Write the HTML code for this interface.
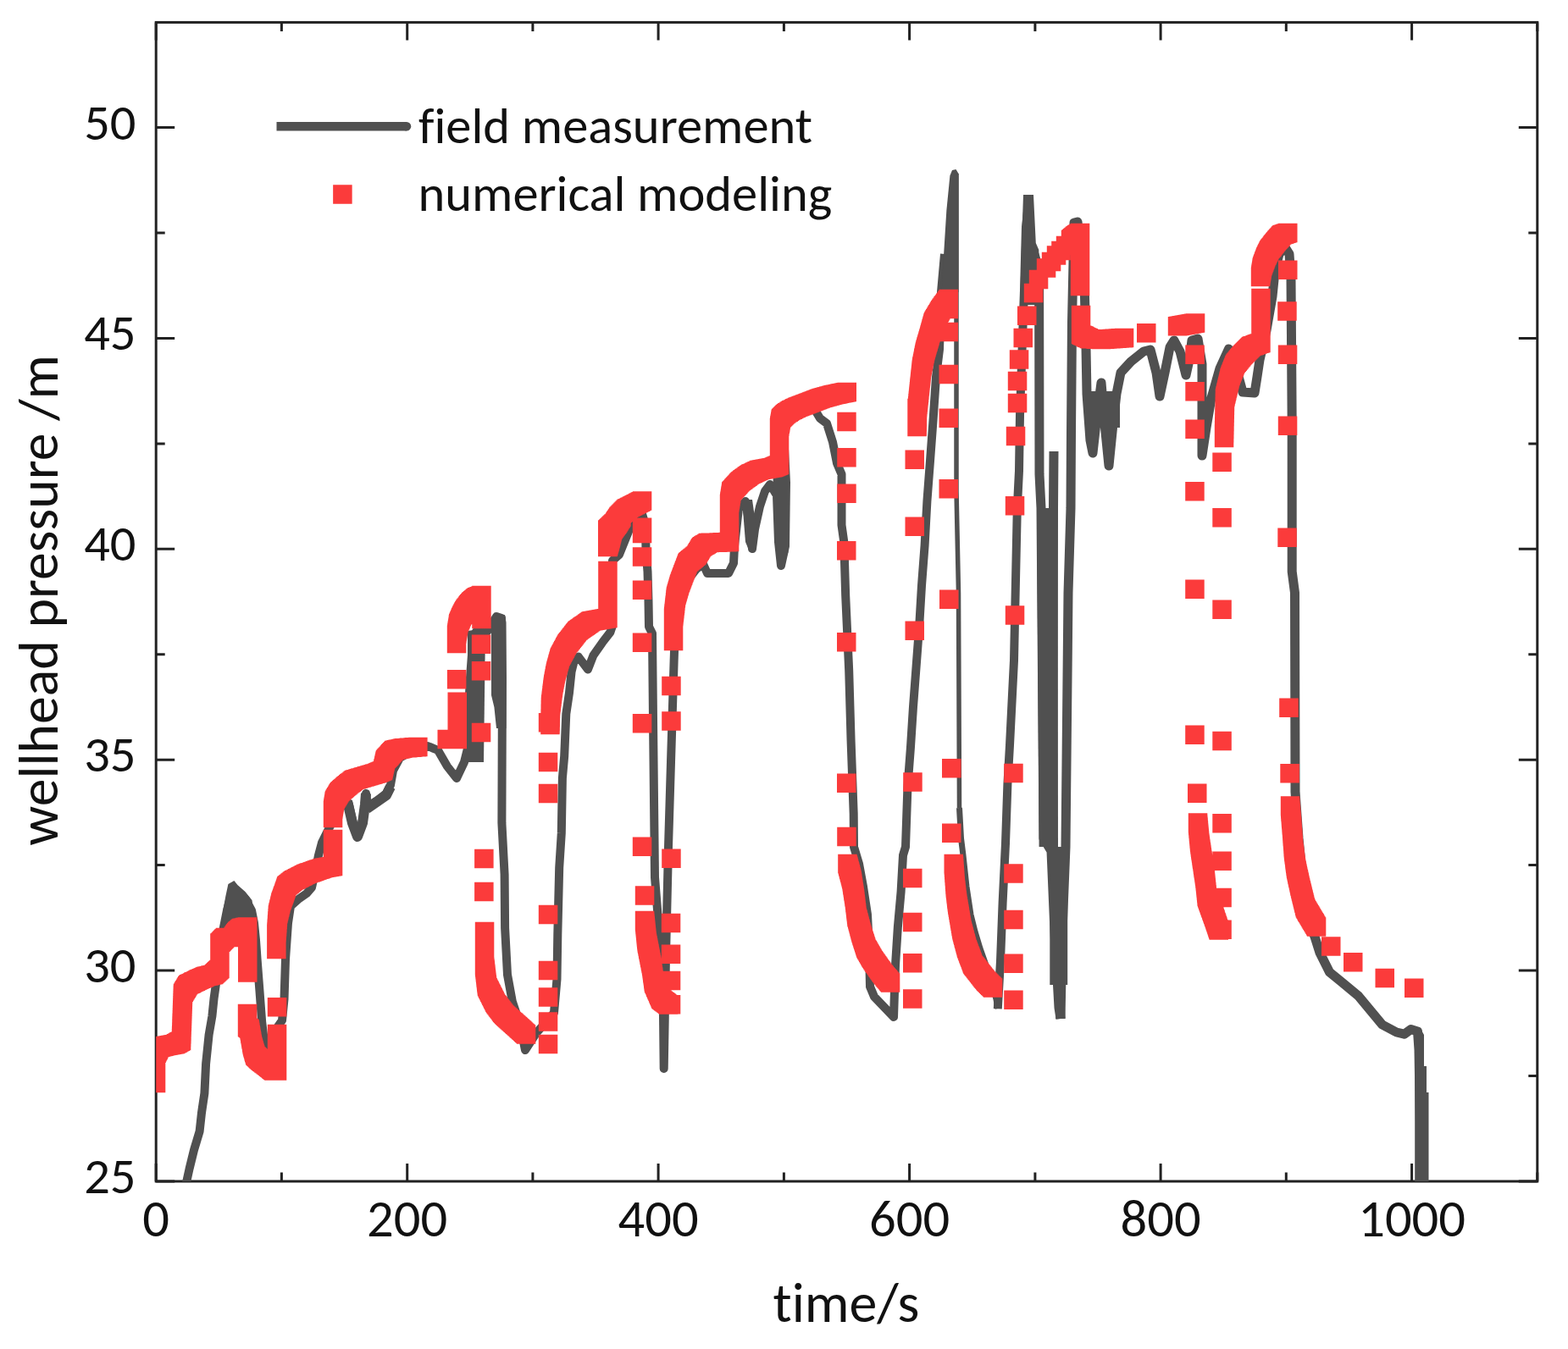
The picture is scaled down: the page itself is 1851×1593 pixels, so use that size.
<!DOCTYPE html>
<html><head><meta charset="utf-8"><title>wellhead pressure</title>
<style>html,body{margin:0;padding:0;background:#fff;}svg{display:block;}text{font-family:"Carlito","Liberation Sans",sans-serif;fill:#111;font-variant-ligatures:none;font-feature-settings:"liga" 0,"clig" 0;}</style>
</head><body>
<svg width="1851" height="1593" viewBox="0 0 1851 1593">
<rect x="184.2" y="26.4" width="1630.6" height="1368.6" fill="none" stroke="#222" stroke-width="3"/>
<path d="M184.2 1395.0v-21M184.2 26.4v21M332.4 1395.0v-10.5M332.4 26.4v10.5M480.7 1395.0v-21M480.7 26.4v21M628.9 1395.0v-10.5M628.9 26.4v10.5M777.1 1395.0v-21M777.1 26.4v21M925.4 1395.0v-10.5M925.4 26.4v10.5M1073.6 1395.0v-21M1073.6 26.4v21M1221.9 1395.0v-10.5M1221.9 26.4v10.5M1370.1 1395.0v-21M1370.1 26.4v21M1518.3 1395.0v-10.5M1518.3 26.4v10.5M1666.6 1395.0v-21M1666.6 26.4v21M1814.8 1395.0v-10.5M1814.8 26.4v10.5M184.2 1395.0h22M1814.8 1395.0h-22M184.2 1270.5h10.5M1814.8 1270.5h-10.5M184.2 1146.1h22M1814.8 1146.1h-22M184.2 1021.6h10.5M1814.8 1021.6h-10.5M184.2 897.2h22M1814.8 897.2h-22M184.2 772.8h10.5M1814.8 772.8h-10.5M184.2 648.3h22M1814.8 648.3h-22M184.2 523.9h10.5M1814.8 523.9h-10.5M184.2 399.4h22M1814.8 399.4h-22M184.2 275.0h10.5M1814.8 275.0h-10.5M184.2 150.5h22M1814.8 150.5h-22" stroke="#222" stroke-width="3" fill="none"/>
<defs><clipPath id="c"><rect x="184.2" y="26.4" width="1630.6" height="1368.6"/></clipPath></defs>
<g clip-path="url(#c)">
<path d="M410.0,946.0 416.0,972.0 422.0,988.0 428.0,972.0 431.0,950.0 432.0,937.0" fill="none" stroke="#505050" stroke-width="12" stroke-linejoin="round" stroke-linecap="butt"/>
<path d="M433.0,955.0 446.0,946.0 456.0,939.0 461.0,929.0" fill="none" stroke="#505050" stroke-width="12" stroke-linejoin="round" stroke-linecap="butt"/>
<path d="M218.5,1402.0 220.3,1395.0 223.6,1380.0 229.0,1358.0 235.6,1336.0 238.0,1314.0 241.4,1291.0 243.1,1256.0 246.6,1222.0 250.4,1200.0 252.6,1178.6 254.3,1166.5 258.0,1140.0 263.0,1100.0 268.0,1075.0 274.0,1052.0 280.0,1052.0 290.0,1062.0 297.0,1075.0 300.0,1090.0 302.0,1110.0 303.5,1131.8 306.4,1169.4 309.2,1207.0 312.0,1230.0 314.0,1240.0 318.0,1235.0 326.0,1215.0 333.0,1205.0 335.5,1180.0 337.0,1133.0 340.0,1090.0 343.0,1070.0 352.0,1062.0 362.0,1055.0 368.0,1048.0 372.0,1030.0 376.0,1010.0 380.0,995.0 390.0,975.0 400.0,955.0 408.0,943.0 412.0,950.0 417.0,972.0 422.0,988.0 427.0,975.0 430.0,955.0 432.0,937.0 434.0,952.0 446.0,945.0 456.0,937.0 461.0,927.0 464.0,910.0 472.0,895.0 490.0,885.0 505.0,881.0 517.0,886.0 528.0,905.0 539.0,919.0 548.0,900.0 553.0,880.0 553.0,840.0 555.0,800.0 558.0,760.0 562.0,746.0 575.0,746.0 586.0,728.0 592.0,730.0 593.0,800.0 592.4,971.8 595.6,1032.5 596.1,1095.7 599.0,1151.0 604.8,1182.7 614.0,1210.0 620.0,1240.0 633.0,1220.0 654.0,1196.0 657.5,1156.0 658.3,1103.6 660.2,1024.6 662.8,983.7 663.9,919.0 666.2,892.7 668.3,843.0 672.0,818.0 674.6,793.0 677.7,780.5 682.7,775.4 694.0,790.5 700.3,774.2 711.6,758.0 720.4,746.6 723.0,739.0 723.0,700.0 723.0,662.0 731.0,655.0 744.5,621.5 752.0,610.0 758.0,607.0 762.0,620.0 762.5,650.0 764.5,675.0 765.5,710.0 766.0,740.0 770.0,748.0 771.0,850.0 773.0,1036.0 780.0,1125.0 783.0,1200.0 783.7,1262.0 786.0,1130.0 789.0,1000.0 792.0,900.0 795.6,781.0 797.0,740.0 803.0,705.0 812.0,685.0 822.0,672.0 830.0,666.0 835.0,677.0 860.0,677.0 866.0,665.0 867.0,645.0 872.0,600.0 880.0,592.0 886.0,625.0 888.0,648.0 891.0,625.0 897.0,598.0 903.0,580.0 909.0,572.0 917.0,585.0 919.0,640.0 922.0,668.0 927.0,645.0 928.0,570.0 926.0,530.0 924.0,500.0 930.0,484.0 945.0,476.0 955.0,476.0 962.0,484.0 968.0,494.0 976.0,500.0 983.0,522.0 988.0,547.0 993.5,560.0 993.5,620.0 996.3,640.0 998.2,703.5 1002.2,791.7 1004.6,875.2 1007.7,961.0 1008.0,1000.0 1014.0,1020.0 1019.0,1047.0 1024.0,1080.0 1026.0,1120.0 1027.0,1165.0 1032.0,1177.0 1055.0,1201.0 1057.0,1140.0 1059.8,1095.5 1063.6,1053.0 1066.0,1010.0 1069.0,1000.0 1071.4,930.0 1075.0,882.0 1078.0,834.6 1081.6,787.0 1085.2,739.0 1088.0,691.5 1091.6,643.8 1094.4,592.0 1098.1,543.0 1101.7,494.0 1105.0,445.0 1109.0,412.6 1111.0,345.0 1115.0,300.0" fill="none" stroke="#505050" stroke-width="10" stroke-linejoin="round" stroke-linecap="butt"/>
<path d="M1129.0,205.0 1129.0,345.0 1129.0,580.0 1131.5,700.0 1132.5,954.0" fill="none" stroke="#505050" stroke-width="5.5" stroke-linejoin="round" stroke-linecap="butt"/>
<path d="M1132.5,954.0 1134.5,990.0 1137.0,1010.0 1141.0,1047.0 1146.0,1080.0 1151.0,1100.0 1157.0,1120.0 1163.0,1137.0 1170.0,1158.0 1176.0,1180.0 1178.0,1191.0" fill="none" stroke="#505050" stroke-width="7" stroke-linejoin="round" stroke-linecap="butt"/>
<path d="M1177.8,1191.2 1181.0,1135.0 1183.6,1066.0 1187.0,996.0 1189.4,926.0 1192.0,880.0 1197.0,780.0 1200.8,600.0 1203.0,556.0 1204.0,490.0 1207.0,400.0 1209.0,343.0 1211.0,268.0 1215.0,232.0" fill="none" stroke="#505050" stroke-width="10" stroke-linejoin="round" stroke-linecap="butt"/>
<path d="M1221.0,300.0 1226.6,320.0 1227.0,560.0 1229.0,600.0 1232.0,990.0 1241.0,1005.0 1245.0,1100.0 1250.0,1190.0 1252.0,1203.0" fill="none" stroke="#505050" stroke-width="11" stroke-linejoin="round" stroke-linecap="butt"/>
<path d="M1244.0,533.0 1243.5,600.0 1243.0,1000.0 1248.0,1100.0 1252.0,1203.0" fill="none" stroke="#505050" stroke-width="11" stroke-linejoin="round" stroke-linecap="butt"/>
<path d="M1252.0,1203.0 1254.0,1100.0 1258.0,1000.0 1261.0,700.0 1264.0,600.0 1264.5,510.0 1265.5,380.0 1268.0,263.0 1272.0,262.0 1280.0,330.0 1282.0,410.0 1283.0,465.0 1287.0,520.0 1290.0,535.0 1295.0,490.0 1300.0,452.0 1304.0,500.0 1309.0,550.0 1314.0,500.0 1318.0,465.0 1323.0,440.0 1335.0,427.0 1350.0,415.0 1358.0,413.0 1365.0,440.0 1369.0,468.0 1375.0,440.0 1381.0,410.0 1386.0,402.0 1393.0,415.0 1400.0,443.0 1404.0,425.0 1407.0,402.0 1414.0,400.0 1419.0,430.0 1419.0,538.0 1424.0,505.0 1430.0,470.0 1440.0,435.0 1450.5,412.0 1458.0,430.0 1467.0,463.0 1481.0,464.0 1484.0,445.0 1487.0,425.0 1495.0,390.0 1502.0,350.0 1505.0,320.0 1510.0,300.0 1517.0,292.0 1522.0,300.0 1524.0,330.0 1524.5,400.0 1525.2,500.0 1525.2,675.0 1528.5,700.0 1529.0,935.0 1533.0,990.0 1540.0,1060.0 1547.0,1095.0 1552.0,1106.0 1558.0,1125.0 1569.5,1148.0 1583.0,1159.0 1603.5,1176.0 1617.6,1193.0 1631.7,1210.0 1648.6,1219.0 1657.7,1221.2 1665.6,1215.6 1673.5,1218.0 1675.0,1240.0 1676.0,1300.0 1678.0,1400.0" fill="none" stroke="#505050" stroke-width="11" stroke-linejoin="round" stroke-linecap="butt"/>
<path d="M552.0,745.0 573.0,742.0 571.0,900.0 552.0,900.0Z" fill="#505050"/>
<path d="M580.0,734.0 583.0,727.0 596.0,726.0 597.5,735.0 597.5,860.0 586.0,860.0 583.4,835.0 580.0,821.0Z" fill="#505050"/>
<path d="M876.0,590.0 888.0,590.0 893.0,625.0 892.0,650.0 885.0,652.0 880.0,640.0Z" fill="#505050"/>
<path d="M912.5,563.0 930.5,563.0 930.5,652.0 924.0,672.0 921.0,670.0 915.0,640.0Z" fill="#505050"/>
<path d="M262.0,1095.0 263.3,1075.0 266.4,1058.0 269.4,1044.0 276.4,1040.0 280.4,1045.0 289.5,1053.0 297.5,1063.0 299.5,1078.0 301.0,1095.0Z" fill="#505050"/>
<path d="M1111.7,345.0 1113.0,318.0 1117.3,249.0 1121.4,207.6 1124.0,201.0 1128.5,200.0 1131.5,205.0 1131.5,345.0Z" fill="#505050"/>
<path d="M1208.0,230.0 1220.0,230.0 1222.8,287.0 1226.3,295.0 1226.5,310.0 1231.0,360.0 1204.0,360.0 1206.0,290.0Z" fill="#505050"/>
<path d="M1281.0,462.0 1322.0,462.0 1322.0,505.0 1281.0,505.0Z" fill="#505050"/>
<path d="M1670.2,1225.0 1668.0,1215.0 1676.0,1213.0 1681.0,1222.0 1681.0,1259.0 1684.0,1259.0 1684.0,1290.0 1686.5,1290.0 1686.5,1400.0 1670.2,1400.0Z" fill="#505050"/>
<path d="M1224.0,600.0 1248.0,600.0 1249.0,1000.0 1226.6,1000.0Z" fill="#505050"/>
<path d="M1239.3,1000.0 1260.2,1000.0 1260.2,1163.0 1239.3,1163.0Z" fill="#505050"/>
<path d="M172.8 1267.8h22.5v22.5h-22.5zM172.8 1266.3h22.5v22.5h-22.5zM172.8 1264.8h22.5v22.5h-22.5zM172.8 1263.3h22.5v22.5h-22.5zM172.8 1261.8h22.5v22.5h-22.5zM172.8 1260.4h22.5v22.5h-22.5zM172.8 1258.9h22.5v22.5h-22.5zM172.8 1257.4h22.5v22.5h-22.5zM172.8 1255.9h22.5v22.5h-22.5zM172.8 1254.4h22.5v22.5h-22.5zM172.8 1253.0h22.5v22.5h-22.5zM172.8 1251.5h22.5v22.5h-22.5zM172.8 1250.0h22.5v22.5h-22.5zM172.8 1248.5h22.5v22.5h-22.5zM172.8 1247.1h22.5v22.5h-22.5zM172.8 1245.6h22.5v22.5h-22.5zM172.8 1244.1h22.5v22.5h-22.5zM172.8 1242.6h22.5v22.5h-22.5zM172.8 1241.1h22.5v22.5h-22.5zM172.8 1239.7h22.5v22.5h-22.5zM172.8 1238.2h22.5v22.5h-22.5zM172.8 1236.7h22.5v22.5h-22.5zM172.8 1235.2h22.5v22.5h-22.5zM172.8 1233.8h22.5v22.5h-22.5zM173.4 1232.4h22.5v22.5h-22.5zM174.1 1231.1h22.5v22.5h-22.5zM174.8 1229.8h22.5v22.5h-22.5zM175.4 1228.4h22.5v22.5h-22.5zM176.1 1227.1h22.5v22.5h-22.5zM176.8 1225.8h22.5v22.5h-22.5zM178.1 1225.4h22.5v22.5h-22.5zM179.4 1225.1h22.5v22.5h-22.5zM180.8 1224.8h22.5v22.5h-22.5zM182.1 1224.4h22.5v22.5h-22.5zM183.4 1224.1h22.5v22.5h-22.5zM184.8 1223.8h22.5v22.5h-22.5zM186.1 1223.5h22.5v22.5h-22.5zM187.5 1223.2h22.5v22.5h-22.5zM188.9 1223.0h22.5v22.5h-22.5zM190.2 1222.8h22.5v22.5h-22.5zM191.6 1222.5h22.5v22.5h-22.5zM193.0 1222.2h22.5v22.5h-22.5zM194.4 1222.0h22.5v22.5h-22.5zM195.8 1221.8h22.5v22.5h-22.5zM196.9 1221.1h22.5v22.5h-22.5zM198.1 1220.4h22.5v22.5h-22.5zM199.2 1219.8h22.5v22.5h-22.5zM200.4 1219.1h22.5v22.5h-22.5zM201.6 1218.4h22.5v22.5h-22.5zM202.8 1217.8h22.5v22.5h-22.5zM202.8 1216.3h22.5v22.5h-22.5zM202.8 1214.8h22.5v22.5h-22.5zM202.9 1213.4h22.5v22.5h-22.5zM202.9 1212.0h22.5v22.5h-22.5zM203.0 1210.5h22.5v22.5h-22.5zM203.1 1209.0h22.5v22.5h-22.5zM203.1 1207.6h22.5v22.5h-22.5zM203.2 1206.2h22.5v22.5h-22.5zM203.2 1204.7h22.5v22.5h-22.5zM203.2 1203.2h22.5v22.5h-22.5zM203.3 1201.8h22.5v22.5h-22.5zM203.3 1200.3h22.5v22.5h-22.5zM203.4 1198.9h22.5v22.5h-22.5zM203.4 1197.5h22.5v22.5h-22.5zM203.5 1196.0h22.5v22.5h-22.5zM203.6 1194.5h22.5v22.5h-22.5zM203.6 1193.1h22.5v22.5h-22.5zM203.7 1191.7h22.5v22.5h-22.5zM203.7 1190.2h22.5v22.5h-22.5zM203.8 1188.8h22.5v22.5h-22.5zM203.8 1187.3h22.5v22.5h-22.5zM203.9 1185.9h22.5v22.5h-22.5zM203.9 1184.5h22.5v22.5h-22.5zM204.0 1183.1h22.5v22.5h-22.5zM204.0 1181.6h22.5v22.5h-22.5zM204.1 1180.2h22.5v22.5h-22.5zM204.1 1178.8h22.5v22.5h-22.5zM204.2 1177.4h22.5v22.5h-22.5zM204.2 1176.0h22.5v22.5h-22.5zM204.3 1174.5h22.5v22.5h-22.5zM204.3 1173.1h22.5v22.5h-22.5zM204.4 1171.7h22.5v22.5h-22.5zM204.4 1170.3h22.5v22.5h-22.5zM204.5 1168.9h22.5v22.5h-22.5zM204.5 1167.4h22.5v22.5h-22.5zM204.6 1166.0h22.5v22.5h-22.5zM204.6 1164.6h22.5v22.5h-22.5zM204.7 1163.2h22.5v22.5h-22.5zM204.8 1161.8h22.5v22.5h-22.5zM205.5 1160.5h22.5v22.5h-22.5zM206.2 1159.2h22.5v22.5h-22.5zM207.0 1158.0h22.5v22.5h-22.5zM207.8 1156.8h22.5v22.5h-22.5zM208.5 1155.5h22.5v22.5h-22.5zM209.2 1154.2h22.5v22.5h-22.5zM210.0 1153.0h22.5v22.5h-22.5zM210.8 1151.8h22.5v22.5h-22.5zM212.0 1151.1h22.5v22.5h-22.5zM213.2 1150.5h22.5v22.5h-22.5zM214.5 1149.9h22.5v22.5h-22.5zM215.8 1149.2h22.5v22.5h-22.5zM217.0 1148.6h22.5v22.5h-22.5zM218.2 1148.0h22.5v22.5h-22.5zM219.5 1147.4h22.5v22.5h-22.5zM220.8 1146.8h22.5v22.5h-22.5zM222.0 1146.2h22.5v22.5h-22.5zM223.2 1145.6h22.5v22.5h-22.5zM224.4 1145.1h22.5v22.5h-22.5zM225.6 1144.5h22.5v22.5h-22.5zM226.9 1144.0h22.5v22.5h-22.5zM228.1 1143.4h22.5v22.5h-22.5zM229.3 1142.9h22.5v22.5h-22.5zM230.5 1142.3h22.5v22.5h-22.5zM231.8 1141.8h22.5v22.5h-22.5zM233.0 1141.5h22.5v22.5h-22.5zM234.3 1141.2h22.5v22.5h-22.5zM235.6 1140.9h22.5v22.5h-22.5zM236.9 1140.6h22.5v22.5h-22.5zM238.2 1140.3h22.5v22.5h-22.5zM239.5 1140.0h22.5v22.5h-22.5zM240.8 1139.8h22.5v22.5h-22.5zM241.8 1138.8h22.5v22.5h-22.5zM242.9 1137.8h22.5v22.5h-22.5zM244.0 1136.8h22.5v22.5h-22.5zM245.0 1135.8h22.5v22.5h-22.5zM246.1 1134.8h22.5v22.5h-22.5zM247.2 1133.8h22.5v22.5h-22.5zM248.2 1132.8h22.5v22.5h-22.5zM248.2 1131.3h22.5v22.5h-22.5zM248.2 1129.9h22.5v22.5h-22.5zM248.2 1128.4h22.5v22.5h-22.5zM248.2 1127.0h22.5v22.5h-22.5zM248.2 1125.5h22.5v22.5h-22.5zM248.2 1124.1h22.5v22.5h-22.5zM248.2 1122.6h22.5v22.5h-22.5zM248.2 1121.2h22.5v22.5h-22.5zM248.2 1119.7h22.5v22.5h-22.5zM248.2 1118.3h22.5v22.5h-22.5zM248.2 1116.8h22.5v22.5h-22.5zM248.2 1115.4h22.5v22.5h-22.5zM248.2 1113.9h22.5v22.5h-22.5zM248.2 1112.5h22.5v22.5h-22.5zM248.2 1111.0h22.5v22.5h-22.5zM248.2 1109.6h22.5v22.5h-22.5zM248.2 1108.1h22.5v22.5h-22.5zM248.2 1106.7h22.5v22.5h-22.5zM248.2 1105.2h22.5v22.5h-22.5zM248.2 1103.8h22.5v22.5h-22.5zM248.2 1102.3h22.5v22.5h-22.5zM249.2 1101.4h22.5v22.5h-22.5zM250.1 1100.5h22.5v22.5h-22.5zM251.0 1099.5h22.5v22.5h-22.5zM252.0 1098.6h22.5v22.5h-22.5zM252.9 1097.6h22.5v22.5h-22.5zM253.8 1096.7h22.5v22.5h-22.5zM254.8 1095.8h22.5v22.5h-22.5zM256.2 1095.8h22.5v22.5h-22.5zM257.8 1095.8h22.5v22.5h-22.5zM259.2 1095.8h22.5v22.5h-22.5zM260.8 1095.8h22.5v22.5h-22.5zM262.2 1095.8h22.5v22.5h-22.5zM263.8 1095.8h22.5v22.5h-22.5zM264.6 1094.6h22.5v22.5h-22.5zM265.4 1093.4h22.5v22.5h-22.5zM266.2 1092.2h22.5v22.5h-22.5zM267.1 1091.1h22.5v22.5h-22.5zM267.9 1089.9h22.5v22.5h-22.5zM268.8 1088.8h22.5v22.5h-22.5zM269.8 1088.0h22.5v22.5h-22.5zM270.8 1087.2h22.5v22.5h-22.5zM271.8 1086.3h22.5v22.5h-22.5zM272.8 1085.5h22.5v22.5h-22.5zM273.8 1084.8h22.5v22.5h-22.5zM275.2 1084.5h22.5v22.5h-22.5zM276.6 1084.2h22.5v22.5h-22.5zM278.1 1083.8h22.5v22.5h-22.5zM279.6 1083.5h22.5v22.5h-22.5zM281.0 1083.2h22.5v22.5h-22.5zM281.0 1084.7h22.5v22.5h-22.5zM281.0 1086.2h22.5v22.5h-22.5zM281.0 1087.7h22.5v22.5h-22.5zM281.0 1089.2h22.5v22.5h-22.5zM281.0 1090.7h22.5v22.5h-22.5zM281.0 1092.2h22.5v22.5h-22.5zM281.0 1093.7h22.5v22.5h-22.5zM281.0 1095.2h22.5v22.5h-22.5zM281.0 1096.7h22.5v22.5h-22.5zM281.0 1098.2h22.5v22.5h-22.5zM281.0 1099.7h22.5v22.5h-22.5zM281.0 1101.2h22.5v22.5h-22.5zM281.0 1102.7h22.5v22.5h-22.5zM281.0 1104.2h22.5v22.5h-22.5zM281.0 1105.7h22.5v22.5h-22.5zM281.0 1107.2h22.5v22.5h-22.5zM281.0 1108.7h22.5v22.5h-22.5zM281.0 1110.2h22.5v22.5h-22.5zM281.0 1111.7h22.5v22.5h-22.5zM281.0 1113.2h22.5v22.5h-22.5zM281.0 1114.7h22.5v22.5h-22.5zM281.0 1116.2h22.5v22.5h-22.5zM281.0 1117.7h22.5v22.5h-22.5zM281.0 1119.2h22.5v22.5h-22.5zM281.0 1120.7h22.5v22.5h-22.5zM281.0 1122.2h22.5v22.5h-22.5zM281.0 1123.7h22.5v22.5h-22.5zM281.0 1125.2h22.5v22.5h-22.5zM281.0 1126.7h22.5v22.5h-22.5zM281.0 1128.2h22.5v22.5h-22.5zM281.0 1129.7h22.5v22.5h-22.5zM281.0 1131.2h22.5v22.5h-22.5zM281.0 1132.7h22.5v22.5h-22.5zM281.0 1134.2h22.5v22.5h-22.5zM281.0 1135.7h22.5v22.5h-22.5zM281.0 1137.2h22.5v22.5h-22.5zM280.8 1185.8h22.5v22.5h-22.5zM280.8 1187.2h22.5v22.5h-22.5zM280.8 1188.7h22.5v22.5h-22.5zM280.8 1190.1h22.5v22.5h-22.5zM280.8 1191.6h22.5v22.5h-22.5zM280.8 1193.0h22.5v22.5h-22.5zM280.8 1194.5h22.5v22.5h-22.5zM280.8 1195.9h22.5v22.5h-22.5zM280.8 1197.4h22.5v22.5h-22.5zM280.8 1198.8h22.5v22.5h-22.5zM280.8 1200.3h22.5v22.5h-22.5zM280.8 1201.8h22.5v22.5h-22.5zM281.6 1202.4h22.5v22.5h-22.5zM282.4 1203.1h22.5v22.5h-22.5zM283.2 1203.8h22.5v22.5h-22.5zM283.5 1205.2h22.5v22.5h-22.5zM283.8 1206.6h22.5v22.5h-22.5zM284.0 1208.0h22.5v22.5h-22.5zM284.2 1209.5h22.5v22.5h-22.5zM284.5 1210.9h22.5v22.5h-22.5zM284.8 1212.3h22.5v22.5h-22.5zM285.0 1213.8h22.5v22.5h-22.5zM285.2 1215.2h22.5v22.5h-22.5zM285.5 1216.6h22.5v22.5h-22.5zM285.8 1218.0h22.5v22.5h-22.5zM286.0 1219.5h22.5v22.5h-22.5zM286.2 1220.9h22.5v22.5h-22.5zM286.5 1222.3h22.5v22.5h-22.5zM286.8 1223.8h22.5v22.5h-22.5zM287.1 1225.0h22.5v22.5h-22.5zM287.5 1226.3h22.5v22.5h-22.5zM287.9 1227.6h22.5v22.5h-22.5zM288.3 1228.9h22.5v22.5h-22.5zM288.6 1230.2h22.5v22.5h-22.5zM289.0 1231.5h22.5v22.5h-22.5zM289.4 1232.8h22.5v22.5h-22.5zM289.8 1234.1h22.5v22.5h-22.5zM290.1 1235.3h22.5v22.5h-22.5zM291.1 1236.2h22.5v22.5h-22.5zM292.0 1237.1h22.5v22.5h-22.5zM292.9 1238.0h22.5v22.5h-22.5zM293.9 1239.0h22.5v22.5h-22.5zM294.8 1239.8h22.5v22.5h-22.5zM295.8 1240.8h22.5v22.5h-22.5zM296.9 1241.6h22.5v22.5h-22.5zM298.0 1242.5h22.5v22.5h-22.5zM299.2 1243.3h22.5v22.5h-22.5zM300.3 1244.2h22.5v22.5h-22.5zM301.5 1245.0h22.5v22.5h-22.5zM302.6 1245.9h22.5v22.5h-22.5zM303.8 1246.8h22.5v22.5h-22.5zM304.8 1247.6h22.5v22.5h-22.5zM305.9 1248.4h22.5v22.5h-22.5zM306.9 1249.2h22.5v22.5h-22.5zM307.9 1250.0h22.5v22.5h-22.5zM309.0 1250.9h22.5v22.5h-22.5zM310.0 1251.7h22.5v22.5h-22.5zM311.1 1252.5h22.5v22.5h-22.5zM312.1 1253.3h22.5v22.5h-22.5zM313.3 1253.3h22.5v22.5h-22.5zM314.6 1253.3h22.5v22.5h-22.5zM315.8 1253.3h22.5v22.5h-22.5zM315.8 1251.9h22.5v22.5h-22.5zM315.8 1250.4h22.5v22.5h-22.5zM315.8 1249.0h22.5v22.5h-22.5zM315.8 1247.5h22.5v22.5h-22.5zM315.8 1246.1h22.5v22.5h-22.5zM315.8 1244.6h22.5v22.5h-22.5zM315.8 1243.2h22.5v22.5h-22.5zM315.8 1241.7h22.5v22.5h-22.5zM315.8 1240.3h22.5v22.5h-22.5zM315.8 1238.8h22.5v22.5h-22.5zM315.8 1237.4h22.5v22.5h-22.5zM315.8 1235.9h22.5v22.5h-22.5zM315.8 1234.5h22.5v22.5h-22.5zM315.8 1233.0h22.5v22.5h-22.5zM315.8 1231.5h22.5v22.5h-22.5zM315.8 1230.1h22.5v22.5h-22.5zM315.8 1228.6h22.5v22.5h-22.5zM315.8 1227.2h22.5v22.5h-22.5zM315.8 1225.7h22.5v22.5h-22.5zM315.8 1224.3h22.5v22.5h-22.5zM315.8 1222.8h22.5v22.5h-22.5zM315.8 1221.4h22.5v22.5h-22.5zM315.8 1219.9h22.5v22.5h-22.5zM315.8 1218.5h22.5v22.5h-22.5zM315.8 1217.0h22.5v22.5h-22.5zM315.8 1215.6h22.5v22.5h-22.5zM315.8 1214.1h22.5v22.5h-22.5zM315.8 1212.7h22.5v22.5h-22.5zM315.8 1211.2h22.5v22.5h-22.5zM315.8 1209.8h22.5v22.5h-22.5zM315.1 1109.8h22.5v22.5h-22.5zM315.1 1108.2h22.5v22.5h-22.5zM315.1 1106.8h22.5v22.5h-22.5zM315.1 1105.2h22.5v22.5h-22.5zM315.1 1103.8h22.5v22.5h-22.5zM315.1 1102.2h22.5v22.5h-22.5zM315.1 1100.8h22.5v22.5h-22.5zM315.1 1099.2h22.5v22.5h-22.5zM315.1 1097.8h22.5v22.5h-22.5zM315.1 1096.2h22.5v22.5h-22.5zM315.1 1094.8h22.5v22.5h-22.5zM315.1 1093.2h22.5v22.5h-22.5zM315.1 1091.8h22.5v22.5h-22.5zM315.2 1090.3h22.5v22.5h-22.5zM315.3 1088.9h22.5v22.5h-22.5zM315.4 1087.4h22.5v22.5h-22.5zM315.5 1086.0h22.5v22.5h-22.5zM315.6 1084.6h22.5v22.5h-22.5zM315.8 1083.1h22.5v22.5h-22.5zM315.8 1081.7h22.5v22.5h-22.5zM315.9 1080.2h22.5v22.5h-22.5zM316.1 1078.8h22.5v22.5h-22.5zM316.1 1077.4h22.5v22.5h-22.5zM316.2 1075.9h22.5v22.5h-22.5zM316.4 1074.5h22.5v22.5h-22.5zM316.4 1073.1h22.5v22.5h-22.5zM316.6 1071.6h22.5v22.5h-22.5zM316.6 1070.2h22.5v22.5h-22.5zM316.8 1068.8h22.5v22.5h-22.5zM317.1 1067.4h22.5v22.5h-22.5zM317.4 1066.0h22.5v22.5h-22.5zM317.8 1064.7h22.5v22.5h-22.5zM318.1 1063.3h22.5v22.5h-22.5zM318.4 1061.9h22.5v22.5h-22.5zM318.8 1060.6h22.5v22.5h-22.5zM319.1 1059.2h22.5v22.5h-22.5zM319.4 1057.8h22.5v22.5h-22.5zM319.8 1056.5h22.5v22.5h-22.5zM320.1 1055.1h22.5v22.5h-22.5zM320.4 1053.8h22.5v22.5h-22.5zM320.9 1052.5h22.5v22.5h-22.5zM321.4 1051.2h22.5v22.5h-22.5zM321.9 1049.9h22.5v22.5h-22.5zM322.3 1048.6h22.5v22.5h-22.5zM322.8 1047.3h22.5v22.5h-22.5zM323.3 1046.0h22.5v22.5h-22.5zM323.8 1044.8h22.5v22.5h-22.5zM324.2 1043.5h22.5v22.5h-22.5zM324.6 1042.2h22.5v22.5h-22.5zM325.1 1041.0h22.5v22.5h-22.5zM325.5 1039.8h22.5v22.5h-22.5zM325.9 1038.5h22.5v22.5h-22.5zM326.4 1037.2h22.5v22.5h-22.5zM326.8 1036.0h22.5v22.5h-22.5zM327.2 1034.8h22.5v22.5h-22.5zM328.3 1033.9h22.5v22.5h-22.5zM329.4 1033.0h22.5v22.5h-22.5zM330.5 1032.2h22.5v22.5h-22.5zM331.5 1031.3h22.5v22.5h-22.5zM332.6 1030.5h22.5v22.5h-22.5zM333.7 1029.6h22.5v22.5h-22.5zM334.8 1028.8h22.5v22.5h-22.5zM336.0 1028.1h22.5v22.5h-22.5zM337.3 1027.4h22.5v22.5h-22.5zM338.6 1026.8h22.5v22.5h-22.5zM339.9 1026.1h22.5v22.5h-22.5zM341.2 1025.4h22.5v22.5h-22.5zM342.5 1024.8h22.5v22.5h-22.5zM343.8 1024.1h22.5v22.5h-22.5zM345.1 1023.4h22.5v22.5h-22.5zM346.4 1022.8h22.5v22.5h-22.5zM347.7 1022.1h22.5v22.5h-22.5zM349.0 1021.4h22.5v22.5h-22.5zM350.2 1020.8h22.5v22.5h-22.5zM351.6 1020.3h22.5v22.5h-22.5zM352.9 1019.8h22.5v22.5h-22.5zM354.2 1019.3h22.5v22.5h-22.5zM355.6 1018.9h22.5v22.5h-22.5zM356.9 1018.4h22.5v22.5h-22.5zM358.2 1018.0h22.5v22.5h-22.5zM359.6 1017.5h22.5v22.5h-22.5zM360.9 1017.0h22.5v22.5h-22.5zM362.2 1016.5h22.5v22.5h-22.5zM363.6 1016.1h22.5v22.5h-22.5zM364.9 1015.6h22.5v22.5h-22.5zM366.2 1015.2h22.5v22.5h-22.5zM367.6 1014.7h22.5v22.5h-22.5zM368.9 1014.2h22.5v22.5h-22.5zM370.2 1013.8h22.5v22.5h-22.5zM371.7 1013.5h22.5v22.5h-22.5zM373.1 1013.2h22.5v22.5h-22.5zM374.6 1013.0h22.5v22.5h-22.5zM376.0 1012.8h22.5v22.5h-22.5zM377.4 1012.5h22.5v22.5h-22.5zM378.9 1012.2h22.5v22.5h-22.5zM380.3 1012.0h22.5v22.5h-22.5zM381.8 1011.8h22.5v22.5h-22.5zM381.8 1010.3h22.5v22.5h-22.5zM381.8 1008.8h22.5v22.5h-22.5zM381.8 1007.4h22.5v22.5h-22.5zM381.8 1005.9h22.5v22.5h-22.5zM381.8 1004.5h22.5v22.5h-22.5zM381.8 1003.0h22.5v22.5h-22.5zM381.8 1001.6h22.5v22.5h-22.5zM381.8 1000.1h22.5v22.5h-22.5zM381.8 998.7h22.5v22.5h-22.5zM381.8 997.2h22.5v22.5h-22.5zM381.8 995.8h22.5v22.5h-22.5zM381.8 994.3h22.5v22.5h-22.5zM381.8 992.8h22.5v22.5h-22.5zM381.8 991.4h22.5v22.5h-22.5zM381.8 989.9h22.5v22.5h-22.5zM381.8 988.5h22.5v22.5h-22.5zM381.8 987.0h22.5v22.5h-22.5zM381.8 985.6h22.5v22.5h-22.5zM381.8 984.1h22.5v22.5h-22.5zM381.8 982.7h22.5v22.5h-22.5zM381.8 981.2h22.5v22.5h-22.5zM381.8 979.8h22.5v22.5h-22.5zM381.8 954.8h22.5v22.5h-22.5zM381.8 953.2h22.5v22.5h-22.5zM381.8 951.8h22.5v22.5h-22.5zM381.8 950.2h22.5v22.5h-22.5zM381.8 948.8h22.5v22.5h-22.5zM381.8 947.2h22.5v22.5h-22.5zM381.8 945.8h22.5v22.5h-22.5zM382.0 944.4h22.5v22.5h-22.5zM382.2 943.1h22.5v22.5h-22.5zM382.4 941.8h22.5v22.5h-22.5zM382.6 940.4h22.5v22.5h-22.5zM382.9 939.1h22.5v22.5h-22.5zM383.1 937.8h22.5v22.5h-22.5zM383.3 936.4h22.5v22.5h-22.5zM383.5 935.1h22.5v22.5h-22.5zM383.8 933.8h22.5v22.5h-22.5zM384.5 932.5h22.5v22.5h-22.5zM385.2 931.2h22.5v22.5h-22.5zM386.0 930.0h22.5v22.5h-22.5zM386.8 928.8h22.5v22.5h-22.5zM387.5 927.5h22.5v22.5h-22.5zM388.2 926.2h22.5v22.5h-22.5zM389.0 925.0h22.5v22.5h-22.5zM389.8 923.8h22.5v22.5h-22.5zM390.8 922.9h22.5v22.5h-22.5zM391.8 922.0h22.5v22.5h-22.5zM392.8 921.1h22.5v22.5h-22.5zM393.8 920.2h22.5v22.5h-22.5zM394.8 919.4h22.5v22.5h-22.5zM395.8 918.5h22.5v22.5h-22.5zM396.8 917.6h22.5v22.5h-22.5zM397.8 916.8h22.5v22.5h-22.5zM398.9 915.9h22.5v22.5h-22.5zM400.0 915.0h22.5v22.5h-22.5zM401.1 914.1h22.5v22.5h-22.5zM402.2 913.2h22.5v22.5h-22.5zM403.4 912.4h22.5v22.5h-22.5zM404.5 911.5h22.5v22.5h-22.5zM405.6 910.6h22.5v22.5h-22.5zM406.8 909.8h22.5v22.5h-22.5zM408.2 909.3h22.5v22.5h-22.5zM409.6 908.9h22.5v22.5h-22.5zM411.0 908.5h22.5v22.5h-22.5zM412.5 908.0h22.5v22.5h-22.5zM413.9 907.6h22.5v22.5h-22.5zM415.3 907.2h22.5v22.5h-22.5zM416.8 906.8h22.5v22.5h-22.5zM418.2 906.3h22.5v22.5h-22.5zM419.6 905.9h22.5v22.5h-22.5zM421.0 905.5h22.5v22.5h-22.5zM422.4 905.1h22.5v22.5h-22.5zM423.8 904.7h22.5v22.5h-22.5zM425.2 904.2h22.5v22.5h-22.5zM426.7 903.8h22.5v22.5h-22.5zM428.1 903.4h22.5v22.5h-22.5zM429.5 903.0h22.5v22.5h-22.5zM430.9 902.6h22.5v22.5h-22.5zM432.3 902.2h22.5v22.5h-22.5zM433.8 901.8h22.5v22.5h-22.5zM434.9 901.2h22.5v22.5h-22.5zM436.1 900.8h22.5v22.5h-22.5zM437.2 900.2h22.5v22.5h-22.5zM438.4 899.8h22.5v22.5h-22.5zM439.6 899.2h22.5v22.5h-22.5zM440.8 898.8h22.5v22.5h-22.5zM441.1 897.3h22.5v22.5h-22.5zM441.4 895.9h22.5v22.5h-22.5zM441.8 894.4h22.5v22.5h-22.5zM442.1 893.0h22.5v22.5h-22.5zM442.4 891.5h22.5v22.5h-22.5zM442.8 890.1h22.5v22.5h-22.5zM443.1 888.6h22.5v22.5h-22.5zM443.4 887.2h22.5v22.5h-22.5zM443.8 885.8h22.5v22.5h-22.5zM444.8 884.6h22.5v22.5h-22.5zM445.8 883.5h22.5v22.5h-22.5zM446.8 882.5h22.5v22.5h-22.5zM447.8 881.4h22.5v22.5h-22.5zM448.8 880.2h22.5v22.5h-22.5zM449.8 879.1h22.5v22.5h-22.5zM450.8 878.0h22.5v22.5h-22.5zM451.8 877.0h22.5v22.5h-22.5zM452.8 875.9h22.5v22.5h-22.5zM453.8 874.8h22.5v22.5h-22.5zM455.1 874.4h22.5v22.5h-22.5zM456.5 874.1h22.5v22.5h-22.5zM457.9 873.8h22.5v22.5h-22.5zM459.2 873.5h22.5v22.5h-22.5zM460.6 873.2h22.5v22.5h-22.5zM462.0 872.9h22.5v22.5h-22.5zM463.4 872.6h22.5v22.5h-22.5zM464.8 872.2h22.5v22.5h-22.5zM466.2 872.1h22.5v22.5h-22.5zM467.6 872.0h22.5v22.5h-22.5zM469.1 871.9h22.5v22.5h-22.5zM470.6 871.8h22.5v22.5h-22.5zM472.0 871.6h22.5v22.5h-22.5zM473.4 871.5h22.5v22.5h-22.5zM474.9 871.4h22.5v22.5h-22.5zM476.3 871.2h22.5v22.5h-22.5zM477.8 871.1h22.5v22.5h-22.5zM479.2 871.0h22.5v22.5h-22.5zM480.7 870.9h22.5v22.5h-22.5zM482.1 870.8h22.5v22.5h-22.5zM516.5 861.8h22.5v22.5h-22.5zM518.0 861.8h22.5v22.5h-22.5zM519.5 861.8h22.5v22.5h-22.5zM521.0 861.8h22.5v22.5h-22.5zM522.5 861.8h22.5v22.5h-22.5zM524.0 861.8h22.5v22.5h-22.5zM525.5 861.8h22.5v22.5h-22.5zM527.0 861.8h22.5v22.5h-22.5zM528.5 861.8h22.5v22.5h-22.5zM528.5 860.3h22.5v22.5h-22.5zM528.5 858.8h22.5v22.5h-22.5zM528.5 857.3h22.5v22.5h-22.5zM528.5 855.8h22.5v22.5h-22.5zM528.5 854.4h22.5v22.5h-22.5zM528.5 852.9h22.5v22.5h-22.5zM528.5 851.4h22.5v22.5h-22.5zM528.5 849.9h22.5v22.5h-22.5zM528.5 848.4h22.5v22.5h-22.5zM528.5 847.0h22.5v22.5h-22.5zM528.5 845.5h22.5v22.5h-22.5zM528.5 844.0h22.5v22.5h-22.5zM528.5 842.5h22.5v22.5h-22.5zM528.5 841.0h22.5v22.5h-22.5zM528.5 839.5h22.5v22.5h-22.5zM528.5 838.1h22.5v22.5h-22.5zM528.5 836.6h22.5v22.5h-22.5zM528.5 835.1h22.5v22.5h-22.5zM528.5 833.6h22.5v22.5h-22.5zM528.5 832.1h22.5v22.5h-22.5zM528.5 830.7h22.5v22.5h-22.5zM528.5 829.2h22.5v22.5h-22.5zM528.5 827.7h22.5v22.5h-22.5zM528.5 826.2h22.5v22.5h-22.5zM528.5 824.8h22.5v22.5h-22.5zM528.5 823.3h22.5v22.5h-22.5zM528.5 821.8h22.5v22.5h-22.5zM528.5 820.3h22.5v22.5h-22.5zM528.5 818.8h22.5v22.5h-22.5zM528.5 817.4h22.5v22.5h-22.5zM527.8 748.8h22.5v22.5h-22.5zM527.8 747.3h22.5v22.5h-22.5zM527.8 745.9h22.5v22.5h-22.5zM527.8 744.5h22.5v22.5h-22.5zM527.8 743.0h22.5v22.5h-22.5zM527.8 741.6h22.5v22.5h-22.5zM527.8 740.2h22.5v22.5h-22.5zM527.8 738.8h22.5v22.5h-22.5zM528.0 737.4h22.5v22.5h-22.5zM528.2 736.0h22.5v22.5h-22.5zM528.4 734.5h22.5v22.5h-22.5zM528.7 733.1h22.5v22.5h-22.5zM528.9 731.8h22.5v22.5h-22.5zM529.1 730.4h22.5v22.5h-22.5zM529.4 729.0h22.5v22.5h-22.5zM529.6 727.5h22.5v22.5h-22.5zM529.8 726.1h22.5v22.5h-22.5zM530.0 724.8h22.5v22.5h-22.5zM530.6 723.4h22.5v22.5h-22.5zM531.2 722.1h22.5v22.5h-22.5zM531.8 720.8h22.5v22.5h-22.5zM532.3 719.4h22.5v22.5h-22.5zM532.9 718.1h22.5v22.5h-22.5zM533.5 716.8h22.5v22.5h-22.5zM534.1 715.6h22.5v22.5h-22.5zM534.7 714.5h22.5v22.5h-22.5zM535.3 713.3h22.5v22.5h-22.5zM535.9 712.2h22.5v22.5h-22.5zM536.5 711.0h22.5v22.5h-22.5zM537.1 709.9h22.5v22.5h-22.5zM537.8 708.8h22.5v22.5h-22.5zM538.6 707.6h22.5v22.5h-22.5zM539.5 706.5h22.5v22.5h-22.5zM540.4 705.4h22.5v22.5h-22.5zM541.2 704.2h22.5v22.5h-22.5zM542.1 703.1h22.5v22.5h-22.5zM543.0 702.0h22.5v22.5h-22.5zM543.9 700.9h22.5v22.5h-22.5zM544.8 699.8h22.5v22.5h-22.5zM545.8 698.9h22.5v22.5h-22.5zM546.8 698.1h22.5v22.5h-22.5zM547.8 697.2h22.5v22.5h-22.5zM548.8 696.4h22.5v22.5h-22.5zM549.8 695.6h22.5v22.5h-22.5zM550.8 694.8h22.5v22.5h-22.5zM552.0 694.1h22.5v22.5h-22.5zM553.4 693.5h22.5v22.5h-22.5zM554.6 693.0h22.5v22.5h-22.5zM556.0 692.4h22.5v22.5h-22.5zM557.2 691.8h22.5v22.5h-22.5zM557.2 693.2h22.5v22.5h-22.5zM557.2 694.7h22.5v22.5h-22.5zM557.2 696.2h22.5v22.5h-22.5zM557.2 697.6h22.5v22.5h-22.5zM557.2 699.1h22.5v22.5h-22.5zM557.2 700.6h22.5v22.5h-22.5zM557.2 702.1h22.5v22.5h-22.5zM557.2 703.5h22.5v22.5h-22.5zM557.2 705.0h22.5v22.5h-22.5zM557.2 706.5h22.5v22.5h-22.5zM557.2 708.0h22.5v22.5h-22.5zM557.2 709.4h22.5v22.5h-22.5zM557.2 710.9h22.5v22.5h-22.5zM557.2 712.4h22.5v22.5h-22.5zM557.2 713.9h22.5v22.5h-22.5zM557.2 715.3h22.5v22.5h-22.5zM557.2 716.8h22.5v22.5h-22.5zM557.2 718.3h22.5v22.5h-22.5zM557.2 719.8h22.5v22.5h-22.5zM560.8 1088.8h22.5v22.5h-22.5zM560.8 1090.2h22.5v22.5h-22.5zM560.8 1091.7h22.5v22.5h-22.5zM560.8 1093.2h22.5v22.5h-22.5zM560.8 1094.7h22.5v22.5h-22.5zM560.8 1096.2h22.5v22.5h-22.5zM560.8 1097.6h22.5v22.5h-22.5zM560.8 1099.1h22.5v22.5h-22.5zM560.8 1100.6h22.5v22.5h-22.5zM560.8 1102.1h22.5v22.5h-22.5zM560.8 1103.6h22.5v22.5h-22.5zM560.8 1105.0h22.5v22.5h-22.5zM560.8 1106.5h22.5v22.5h-22.5zM560.8 1108.0h22.5v22.5h-22.5zM560.8 1109.5h22.5v22.5h-22.5zM560.8 1111.0h22.5v22.5h-22.5zM560.8 1112.5h22.5v22.5h-22.5zM560.8 1113.9h22.5v22.5h-22.5zM560.8 1115.4h22.5v22.5h-22.5zM560.8 1116.9h22.5v22.5h-22.5zM560.8 1118.4h22.5v22.5h-22.5zM560.8 1119.9h22.5v22.5h-22.5zM560.8 1121.3h22.5v22.5h-22.5zM560.8 1122.8h22.5v22.5h-22.5zM560.8 1124.3h22.5v22.5h-22.5zM560.8 1125.8h22.5v22.5h-22.5zM560.8 1127.3h22.5v22.5h-22.5zM560.8 1128.8h22.5v22.5h-22.5zM560.9 1130.2h22.5v22.5h-22.5zM561.1 1131.7h22.5v22.5h-22.5zM561.3 1133.2h22.5v22.5h-22.5zM561.5 1134.6h22.5v22.5h-22.5zM561.6 1136.1h22.5v22.5h-22.5zM561.8 1137.6h22.5v22.5h-22.5zM562.0 1139.0h22.5v22.5h-22.5zM562.2 1140.5h22.5v22.5h-22.5zM562.3 1142.0h22.5v22.5h-22.5zM562.5 1143.5h22.5v22.5h-22.5zM562.7 1144.9h22.5v22.5h-22.5zM562.9 1146.4h22.5v22.5h-22.5zM563.0 1147.9h22.5v22.5h-22.5zM563.2 1149.3h22.5v22.5h-22.5zM563.4 1150.8h22.5v22.5h-22.5zM563.6 1152.3h22.5v22.5h-22.5zM563.8 1153.8h22.5v22.5h-22.5zM564.4 1155.1h22.5v22.5h-22.5zM565.1 1156.4h22.5v22.5h-22.5zM565.8 1157.8h22.5v22.5h-22.5zM566.4 1159.1h22.5v22.5h-22.5zM567.1 1160.4h22.5v22.5h-22.5zM567.8 1161.8h22.5v22.5h-22.5zM568.4 1163.1h22.5v22.5h-22.5zM569.1 1164.4h22.5v22.5h-22.5zM569.8 1165.8h22.5v22.5h-22.5zM570.4 1167.1h22.5v22.5h-22.5zM571.1 1168.4h22.5v22.5h-22.5zM571.8 1169.8h22.5v22.5h-22.5zM572.4 1171.1h22.5v22.5h-22.5zM573.1 1172.4h22.5v22.5h-22.5zM573.8 1173.8h22.5v22.5h-22.5zM574.7 1174.9h22.5v22.5h-22.5zM575.6 1176.1h22.5v22.5h-22.5zM576.5 1177.3h22.5v22.5h-22.5zM577.4 1178.5h22.5v22.5h-22.5zM578.3 1179.7h22.5v22.5h-22.5zM579.2 1180.8h22.5v22.5h-22.5zM580.1 1182.0h22.5v22.5h-22.5zM581.0 1183.2h22.5v22.5h-22.5zM581.9 1184.4h22.5v22.5h-22.5zM582.8 1185.6h22.5v22.5h-22.5zM583.8 1186.8h22.5v22.5h-22.5zM584.9 1187.8h22.5v22.5h-22.5zM586.0 1188.8h22.5v22.5h-22.5zM587.1 1189.8h22.5v22.5h-22.5zM588.2 1190.8h22.5v22.5h-22.5zM589.3 1191.8h22.5v22.5h-22.5zM590.4 1192.8h22.5v22.5h-22.5zM591.5 1193.8h22.5v22.5h-22.5zM592.6 1194.8h22.5v22.5h-22.5zM593.8 1195.8h22.5v22.5h-22.5zM594.8 1196.6h22.5v22.5h-22.5zM595.8 1197.5h22.5v22.5h-22.5zM596.8 1198.4h22.5v22.5h-22.5zM597.8 1199.3h22.5v22.5h-22.5zM598.8 1200.2h22.5v22.5h-22.5zM599.8 1201.1h22.5v22.5h-22.5zM600.8 1202.0h22.5v22.5h-22.5zM601.8 1202.9h22.5v22.5h-22.5zM602.8 1203.8h22.5v22.5h-22.5zM603.8 1204.7h22.5v22.5h-22.5zM604.8 1205.6h22.5v22.5h-22.5zM605.8 1206.5h22.5v22.5h-22.5zM606.8 1207.5h22.5v22.5h-22.5zM607.8 1208.4h22.5v22.5h-22.5zM608.8 1209.3h22.5v22.5h-22.5zM609.8 1210.2h22.5v22.5h-22.5zM638.2 844.8h22.5v22.5h-22.5zM638.3 843.3h22.5v22.5h-22.5zM638.3 841.8h22.5v22.5h-22.5zM638.4 840.4h22.5v22.5h-22.5zM638.4 838.9h22.5v22.5h-22.5zM638.4 837.4h22.5v22.5h-22.5zM638.5 836.0h22.5v22.5h-22.5zM638.5 834.5h22.5v22.5h-22.5zM638.5 833.0h22.5v22.5h-22.5zM638.5 831.5h22.5v22.5h-22.5zM638.6 830.1h22.5v22.5h-22.5zM638.6 828.6h22.5v22.5h-22.5zM638.6 827.1h22.5v22.5h-22.5zM638.7 825.7h22.5v22.5h-22.5zM638.7 824.2h22.5v22.5h-22.5zM638.8 822.8h22.5v22.5h-22.5zM638.9 821.3h22.5v22.5h-22.5zM639.1 819.9h22.5v22.5h-22.5zM639.3 818.5h22.5v22.5h-22.5zM639.5 817.1h22.5v22.5h-22.5zM639.6 815.7h22.5v22.5h-22.5zM639.8 814.3h22.5v22.5h-22.5zM640.0 812.9h22.5v22.5h-22.5zM640.2 811.5h22.5v22.5h-22.5zM640.3 810.0h22.5v22.5h-22.5zM640.5 808.6h22.5v22.5h-22.5zM640.7 807.2h22.5v22.5h-22.5zM640.9 805.8h22.5v22.5h-22.5zM641.0 804.4h22.5v22.5h-22.5zM641.2 803.0h22.5v22.5h-22.5zM641.4 801.6h22.5v22.5h-22.5zM641.6 800.2h22.5v22.5h-22.5zM641.8 798.8h22.5v22.5h-22.5zM642.0 797.3h22.5v22.5h-22.5zM642.3 795.8h22.5v22.5h-22.5zM642.6 794.4h22.5v22.5h-22.5zM642.8 792.9h22.5v22.5h-22.5zM643.1 791.5h22.5v22.5h-22.5zM643.4 790.0h22.5v22.5h-22.5zM643.7 788.6h22.5v22.5h-22.5zM643.9 787.1h22.5v22.5h-22.5zM644.2 785.7h22.5v22.5h-22.5zM644.5 784.2h22.5v22.5h-22.5zM644.8 782.8h22.5v22.5h-22.5zM645.1 781.4h22.5v22.5h-22.5zM645.5 780.0h22.5v22.5h-22.5zM645.9 778.6h22.5v22.5h-22.5zM646.3 777.2h22.5v22.5h-22.5zM646.7 775.8h22.5v22.5h-22.5zM647.1 774.4h22.5v22.5h-22.5zM647.4 773.1h22.5v22.5h-22.5zM647.8 771.7h22.5v22.5h-22.5zM648.2 770.3h22.5v22.5h-22.5zM648.6 768.9h22.5v22.5h-22.5zM649.0 767.5h22.5v22.5h-22.5zM649.4 766.1h22.5v22.5h-22.5zM649.8 764.8h22.5v22.5h-22.5zM650.5 763.5h22.5v22.5h-22.5zM651.2 762.2h22.5v22.5h-22.5zM651.9 760.9h22.5v22.5h-22.5zM652.6 759.6h22.5v22.5h-22.5zM653.3 758.3h22.5v22.5h-22.5zM654.0 757.0h22.5v22.5h-22.5zM654.7 755.7h22.5v22.5h-22.5zM655.4 754.4h22.5v22.5h-22.5zM656.1 753.1h22.5v22.5h-22.5zM656.8 751.8h22.5v22.5h-22.5zM657.5 750.5h22.5v22.5h-22.5zM658.2 749.2h22.5v22.5h-22.5zM659.1 748.1h22.5v22.5h-22.5zM660.0 747.0h22.5v22.5h-22.5zM660.8 745.9h22.5v22.5h-22.5zM661.7 744.8h22.5v22.5h-22.5zM662.5 743.7h22.5v22.5h-22.5zM663.4 742.6h22.5v22.5h-22.5zM664.2 741.5h22.5v22.5h-22.5zM665.1 740.4h22.5v22.5h-22.5zM666.0 739.3h22.5v22.5h-22.5zM666.8 738.2h22.5v22.5h-22.5zM667.7 737.1h22.5v22.5h-22.5zM668.5 736.0h22.5v22.5h-22.5zM669.4 734.9h22.5v22.5h-22.5zM670.2 733.8h22.5v22.5h-22.5zM671.4 732.9h22.5v22.5h-22.5zM672.6 732.1h22.5v22.5h-22.5zM673.7 731.3h22.5v22.5h-22.5zM674.9 730.5h22.5v22.5h-22.5zM676.1 729.6h22.5v22.5h-22.5zM677.2 728.8h22.5v22.5h-22.5zM678.4 728.0h22.5v22.5h-22.5zM679.6 727.2h22.5v22.5h-22.5zM680.7 726.4h22.5v22.5h-22.5zM681.9 725.5h22.5v22.5h-22.5zM683.1 724.7h22.5v22.5h-22.5zM684.2 723.9h22.5v22.5h-22.5zM685.4 723.1h22.5v22.5h-22.5zM686.5 722.2h22.5v22.5h-22.5zM688.0 722.0h22.5v22.5h-22.5zM689.4 721.8h22.5v22.5h-22.5zM690.8 721.5h22.5v22.5h-22.5zM692.2 721.2h22.5v22.5h-22.5zM693.6 721.0h22.5v22.5h-22.5zM695.0 720.8h22.5v22.5h-22.5zM696.4 720.5h22.5v22.5h-22.5zM697.8 720.2h22.5v22.5h-22.5zM699.2 720.0h22.5v22.5h-22.5zM700.6 719.8h22.5v22.5h-22.5zM702.0 719.5h22.5v22.5h-22.5zM703.4 719.2h22.5v22.5h-22.5zM704.8 719.0h22.5v22.5h-22.5zM706.2 718.8h22.5v22.5h-22.5zM706.2 717.3h22.5v22.5h-22.5zM706.2 715.8h22.5v22.5h-22.5zM706.2 714.3h22.5v22.5h-22.5zM706.2 712.9h22.5v22.5h-22.5zM706.2 711.4h22.5v22.5h-22.5zM706.2 709.9h22.5v22.5h-22.5zM706.2 708.4h22.5v22.5h-22.5zM706.2 707.0h22.5v22.5h-22.5zM706.2 705.5h22.5v22.5h-22.5zM706.2 704.0h22.5v22.5h-22.5zM706.2 702.5h22.5v22.5h-22.5zM706.2 701.1h22.5v22.5h-22.5zM706.2 699.6h22.5v22.5h-22.5zM706.2 698.1h22.5v22.5h-22.5zM706.2 696.6h22.5v22.5h-22.5zM706.2 695.2h22.5v22.5h-22.5zM706.2 693.7h22.5v22.5h-22.5zM706.2 692.2h22.5v22.5h-22.5zM706.2 690.8h22.5v22.5h-22.5zM706.2 689.3h22.5v22.5h-22.5zM706.2 687.8h22.5v22.5h-22.5zM706.2 686.3h22.5v22.5h-22.5zM706.2 684.9h22.5v22.5h-22.5zM706.2 683.4h22.5v22.5h-22.5zM706.2 681.9h22.5v22.5h-22.5zM706.2 680.4h22.5v22.5h-22.5zM706.2 679.0h22.5v22.5h-22.5zM706.2 677.5h22.5v22.5h-22.5zM706.2 676.0h22.5v22.5h-22.5zM706.2 674.5h22.5v22.5h-22.5zM706.2 673.1h22.5v22.5h-22.5zM706.2 671.6h22.5v22.5h-22.5zM706.2 670.1h22.5v22.5h-22.5zM706.2 668.6h22.5v22.5h-22.5zM706.2 667.2h22.5v22.5h-22.5zM706.2 665.7h22.5v22.5h-22.5zM706.2 664.2h22.5v22.5h-22.5zM706.2 662.8h22.5v22.5h-22.5zM706.0 634.8h22.5v22.5h-22.5zM706.0 633.3h22.5v22.5h-22.5zM706.0 631.8h22.5v22.5h-22.5zM706.0 630.4h22.5v22.5h-22.5zM706.0 628.9h22.5v22.5h-22.5zM706.0 627.4h22.5v22.5h-22.5zM706.0 626.0h22.5v22.5h-22.5zM706.0 624.5h22.5v22.5h-22.5zM706.0 623.0h22.5v22.5h-22.5zM706.0 621.6h22.5v22.5h-22.5zM706.0 620.1h22.5v22.5h-22.5zM706.0 618.6h22.5v22.5h-22.5zM706.0 617.2h22.5v22.5h-22.5zM706.0 615.7h22.5v22.5h-22.5zM706.0 614.2h22.5v22.5h-22.5zM707.1 613.3h22.5v22.5h-22.5zM708.1 612.3h22.5v22.5h-22.5zM709.2 611.3h22.5v22.5h-22.5zM710.2 610.3h22.5v22.5h-22.5zM711.2 609.3h22.5v22.5h-22.5zM712.3 608.3h22.5v22.5h-22.5zM713.3 607.3h22.5v22.5h-22.5zM714.4 606.4h22.5v22.5h-22.5zM715.1 605.2h22.5v22.5h-22.5zM715.9 604.1h22.5v22.5h-22.5zM716.6 603.0h22.5v22.5h-22.5zM717.4 601.8h22.5v22.5h-22.5zM718.1 600.7h22.5v22.5h-22.5zM718.9 599.6h22.5v22.5h-22.5zM719.6 598.5h22.5v22.5h-22.5zM720.6 597.5h22.5v22.5h-22.5zM721.6 596.5h22.5v22.5h-22.5zM722.6 595.5h22.5v22.5h-22.5zM723.6 594.5h22.5v22.5h-22.5zM724.5 593.6h22.5v22.5h-22.5zM725.5 592.6h22.5v22.5h-22.5zM726.5 591.6h22.5v22.5h-22.5zM727.5 590.6h22.5v22.5h-22.5zM728.5 589.6h22.5v22.5h-22.5zM729.7 589.0h22.5v22.5h-22.5zM730.9 588.4h22.5v22.5h-22.5zM732.1 587.8h22.5v22.5h-22.5zM733.4 587.2h22.5v22.5h-22.5zM734.6 586.5h22.5v22.5h-22.5zM735.8 585.9h22.5v22.5h-22.5zM737.1 585.3h22.5v22.5h-22.5zM738.3 584.7h22.5v22.5h-22.5zM739.5 584.1h22.5v22.5h-22.5zM740.8 583.5h22.5v22.5h-22.5zM742.0 582.8h22.5v22.5h-22.5zM743.1 582.2h22.5v22.5h-22.5zM744.4 581.5h22.5v22.5h-22.5zM745.5 580.9h22.5v22.5h-22.5zM746.8 580.2h22.5v22.5h-22.5zM706.5 634.5h22.5v22.5h-22.5zM706.8 633.2h22.5v22.5h-22.5zM707.2 631.9h22.5v22.5h-22.5zM707.6 630.7h22.5v22.5h-22.5zM707.9 629.4h22.5v22.5h-22.5zM708.3 628.2h22.5v22.5h-22.5zM708.7 626.9h22.5v22.5h-22.5zM709.0 625.6h22.5v22.5h-22.5zM709.4 624.3h22.5v22.5h-22.5zM709.7 623.0h22.5v22.5h-22.5zM710.0 621.7h22.5v22.5h-22.5zM710.3 620.3h22.5v22.5h-22.5zM710.7 619.0h22.5v22.5h-22.5zM711.0 617.7h22.5v22.5h-22.5zM711.3 616.4h22.5v22.5h-22.5zM711.6 615.0h22.5v22.5h-22.5zM712.4 613.9h22.5v22.5h-22.5zM713.2 612.8h22.5v22.5h-22.5zM714.0 611.8h22.5v22.5h-22.5zM714.8 610.6h22.5v22.5h-22.5zM715.5 609.5h22.5v22.5h-22.5zM716.3 608.5h22.5v22.5h-22.5zM717.1 607.4h22.5v22.5h-22.5zM717.9 606.2h22.5v22.5h-22.5zM718.6 605.1h22.5v22.5h-22.5zM719.3 603.9h22.5v22.5h-22.5zM720.0 602.8h22.5v22.5h-22.5zM720.8 601.6h22.5v22.5h-22.5zM721.5 600.4h22.5v22.5h-22.5zM722.2 599.2h22.5v22.5h-22.5zM746.8 611.5h22.5v22.5h-22.5zM746.8 613.0h22.5v22.5h-22.5zM746.8 614.4h22.5v22.5h-22.5zM746.8 615.9h22.5v22.5h-22.5zM746.8 617.3h22.5v22.5h-22.5zM746.8 618.8h22.5v22.5h-22.5zM749.8 1075.8h22.5v22.5h-22.5zM749.9 1077.2h22.5v22.5h-22.5zM750.1 1078.7h22.5v22.5h-22.5zM750.2 1080.2h22.5v22.5h-22.5zM750.4 1081.6h22.5v22.5h-22.5zM750.5 1083.1h22.5v22.5h-22.5zM750.7 1084.6h22.5v22.5h-22.5zM750.8 1086.0h22.5v22.5h-22.5zM751.0 1087.5h22.5v22.5h-22.5zM751.1 1089.0h22.5v22.5h-22.5zM751.3 1090.5h22.5v22.5h-22.5zM751.4 1091.9h22.5v22.5h-22.5zM751.6 1093.4h22.5v22.5h-22.5zM751.7 1094.9h22.5v22.5h-22.5zM751.9 1096.3h22.5v22.5h-22.5zM752.0 1097.8h22.5v22.5h-22.5zM752.2 1099.3h22.5v22.5h-22.5zM752.4 1100.8h22.5v22.5h-22.5zM752.6 1102.2h22.5v22.5h-22.5zM752.9 1103.6h22.5v22.5h-22.5zM753.2 1105.1h22.5v22.5h-22.5zM753.5 1106.5h22.5v22.5h-22.5zM753.8 1107.9h22.5v22.5h-22.5zM754.0 1109.4h22.5v22.5h-22.5zM754.3 1110.8h22.5v22.5h-22.5zM754.6 1112.2h22.5v22.5h-22.5zM754.9 1113.7h22.5v22.5h-22.5zM755.2 1115.1h22.5v22.5h-22.5zM755.4 1116.5h22.5v22.5h-22.5zM755.7 1118.0h22.5v22.5h-22.5zM756.0 1119.4h22.5v22.5h-22.5zM756.3 1120.8h22.5v22.5h-22.5zM756.6 1122.3h22.5v22.5h-22.5zM756.8 1123.7h22.5v22.5h-22.5zM757.1 1125.1h22.5v22.5h-22.5zM757.4 1126.6h22.5v22.5h-22.5zM757.7 1128.0h22.5v22.5h-22.5zM758.0 1129.5h22.5v22.5h-22.5zM758.2 1130.9h22.5v22.5h-22.5zM758.4 1132.3h22.5v22.5h-22.5zM758.6 1133.7h22.5v22.5h-22.5zM758.8 1135.1h22.5v22.5h-22.5zM759.0 1136.5h22.5v22.5h-22.5zM759.1 1137.9h22.5v22.5h-22.5zM759.4 1139.3h22.5v22.5h-22.5zM759.6 1140.7h22.5v22.5h-22.5zM759.8 1142.1h22.5v22.5h-22.5zM760.0 1143.5h22.5v22.5h-22.5zM760.1 1144.9h22.5v22.5h-22.5zM760.4 1146.3h22.5v22.5h-22.5zM760.5 1147.7h22.5v22.5h-22.5zM760.8 1149.2h22.5v22.5h-22.5zM761.3 1150.5h22.5v22.5h-22.5zM761.9 1151.8h22.5v22.5h-22.5zM762.5 1153.1h22.5v22.5h-22.5zM763.0 1154.4h22.5v22.5h-22.5zM763.6 1155.7h22.5v22.5h-22.5zM764.1 1157.0h22.5v22.5h-22.5zM764.7 1158.3h22.5v22.5h-22.5zM765.3 1159.6h22.5v22.5h-22.5zM765.9 1160.9h22.5v22.5h-22.5zM766.4 1162.2h22.5v22.5h-22.5zM767.0 1163.5h22.5v22.5h-22.5zM767.5 1164.8h22.5v22.5h-22.5zM768.1 1166.1h22.5v22.5h-22.5zM768.7 1167.4h22.5v22.5h-22.5zM769.2 1168.8h22.5v22.5h-22.5zM770.3 1169.6h22.5v22.5h-22.5zM771.4 1170.4h22.5v22.5h-22.5zM772.4 1171.2h22.5v22.5h-22.5zM773.5 1172.0h22.5v22.5h-22.5zM774.6 1172.8h22.5v22.5h-22.5zM775.6 1173.6h22.5v22.5h-22.5zM776.7 1174.4h22.5v22.5h-22.5zM777.8 1175.2h22.5v22.5h-22.5zM783.8 745.8h22.5v22.5h-22.5zM783.8 744.2h22.5v22.5h-22.5zM783.8 742.8h22.5v22.5h-22.5zM783.8 741.2h22.5v22.5h-22.5zM783.8 739.8h22.5v22.5h-22.5zM783.8 738.2h22.5v22.5h-22.5zM783.8 736.8h22.5v22.5h-22.5zM783.8 735.2h22.5v22.5h-22.5zM783.8 733.8h22.5v22.5h-22.5zM783.8 732.2h22.5v22.5h-22.5zM783.8 730.8h22.5v22.5h-22.5zM783.8 729.2h22.5v22.5h-22.5zM783.8 727.8h22.5v22.5h-22.5zM783.8 726.2h22.5v22.5h-22.5zM783.8 724.8h22.5v22.5h-22.5zM783.8 723.2h22.5v22.5h-22.5zM783.8 721.8h22.5v22.5h-22.5zM783.8 720.2h22.5v22.5h-22.5zM783.8 718.8h22.5v22.5h-22.5zM783.9 717.3h22.5v22.5h-22.5zM784.1 715.9h22.5v22.5h-22.5zM784.2 714.4h22.5v22.5h-22.5zM784.4 713.0h22.5v22.5h-22.5zM784.6 711.5h22.5v22.5h-22.5zM784.8 710.1h22.5v22.5h-22.5zM784.9 708.6h22.5v22.5h-22.5zM785.1 707.2h22.5v22.5h-22.5zM785.2 705.8h22.5v22.5h-22.5zM785.4 704.3h22.5v22.5h-22.5zM785.6 702.9h22.5v22.5h-22.5zM785.8 701.4h22.5v22.5h-22.5zM785.9 700.0h22.5v22.5h-22.5zM786.1 698.5h22.5v22.5h-22.5zM786.2 697.1h22.5v22.5h-22.5zM786.4 695.6h22.5v22.5h-22.5zM786.6 694.2h22.5v22.5h-22.5zM786.8 692.8h22.5v22.5h-22.5zM787.2 691.4h22.5v22.5h-22.5zM787.6 690.0h22.5v22.5h-22.5zM788.0 688.7h22.5v22.5h-22.5zM788.4 687.3h22.5v22.5h-22.5zM788.8 685.9h22.5v22.5h-22.5zM789.2 684.6h22.5v22.5h-22.5zM789.6 683.2h22.5v22.5h-22.5zM790.0 681.8h22.5v22.5h-22.5zM790.4 680.5h22.5v22.5h-22.5zM790.8 679.1h22.5v22.5h-22.5zM791.2 677.8h22.5v22.5h-22.5zM791.8 676.4h22.5v22.5h-22.5zM792.2 675.1h22.5v22.5h-22.5zM792.8 673.8h22.5v22.5h-22.5zM793.2 672.4h22.5v22.5h-22.5zM793.8 671.1h22.5v22.5h-22.5zM794.2 669.8h22.5v22.5h-22.5zM794.8 668.4h22.5v22.5h-22.5zM795.2 667.1h22.5v22.5h-22.5zM795.8 665.8h22.5v22.5h-22.5zM796.2 664.5h22.5v22.5h-22.5zM796.8 663.1h22.5v22.5h-22.5zM797.2 661.9h22.5v22.5h-22.5zM797.8 660.5h22.5v22.5h-22.5zM798.2 659.2h22.5v22.5h-22.5zM798.8 658.0h22.5v22.5h-22.5zM799.2 656.6h22.5v22.5h-22.5zM799.8 655.4h22.5v22.5h-22.5zM800.2 654.0h22.5v22.5h-22.5zM800.8 652.8h22.5v22.5h-22.5zM801.9 651.9h22.5v22.5h-22.5zM803.0 651.0h22.5v22.5h-22.5zM804.1 650.1h22.5v22.5h-22.5zM805.2 649.2h22.5v22.5h-22.5zM806.3 648.3h22.5v22.5h-22.5zM807.4 647.4h22.5v22.5h-22.5zM808.5 646.5h22.5v22.5h-22.5zM809.6 645.6h22.5v22.5h-22.5zM810.8 644.8h22.5v22.5h-22.5zM811.5 643.5h22.5v22.5h-22.5zM812.2 642.2h22.5v22.5h-22.5zM813.0 641.0h22.5v22.5h-22.5zM813.8 639.8h22.5v22.5h-22.5zM814.5 638.5h22.5v22.5h-22.5zM815.2 637.2h22.5v22.5h-22.5zM816.0 636.0h22.5v22.5h-22.5zM816.8 634.8h22.5v22.5h-22.5zM817.9 634.0h22.5v22.5h-22.5zM819.0 633.3h22.5v22.5h-22.5zM820.2 632.6h22.5v22.5h-22.5zM821.3 631.9h22.5v22.5h-22.5zM822.5 631.2h22.5v22.5h-22.5zM823.6 630.5h22.5v22.5h-22.5zM824.8 629.8h22.5v22.5h-22.5zM826.1 629.7h22.5v22.5h-22.5zM827.5 629.6h22.5v22.5h-22.5zM829.0 629.6h22.5v22.5h-22.5zM830.4 629.5h22.5v22.5h-22.5zM831.8 629.5h22.5v22.5h-22.5zM833.1 629.5h22.5v22.5h-22.5zM834.5 629.4h22.5v22.5h-22.5zM836.0 629.4h22.5v22.5h-22.5zM837.4 629.3h22.5v22.5h-22.5zM838.8 629.2h22.5v22.5h-22.5zM840.1 629.2h22.5v22.5h-22.5zM841.5 629.1h22.5v22.5h-22.5zM842.9 629.1h22.5v22.5h-22.5zM844.2 629.0h22.5v22.5h-22.5zM845.6 628.9h22.5v22.5h-22.5zM847.0 628.9h22.5v22.5h-22.5zM848.4 628.8h22.5v22.5h-22.5zM849.8 628.8h22.5v22.5h-22.5zM849.8 627.2h22.5v22.5h-22.5zM849.8 625.8h22.5v22.5h-22.5zM849.8 624.2h22.5v22.5h-22.5zM849.8 622.8h22.5v22.5h-22.5zM849.8 621.2h22.5v22.5h-22.5zM849.8 619.8h22.5v22.5h-22.5zM849.8 618.2h22.5v22.5h-22.5zM849.8 616.8h22.5v22.5h-22.5zM849.8 615.2h22.5v22.5h-22.5zM849.8 613.8h22.5v22.5h-22.5zM849.8 612.2h22.5v22.5h-22.5zM849.8 610.8h22.5v22.5h-22.5zM849.8 609.2h22.5v22.5h-22.5zM849.8 607.8h22.5v22.5h-22.5zM849.8 606.2h22.5v22.5h-22.5zM849.8 604.8h22.5v22.5h-22.5zM849.8 603.2h22.5v22.5h-22.5zM849.8 601.8h22.5v22.5h-22.5zM849.8 600.2h22.5v22.5h-22.5zM849.8 598.8h22.5v22.5h-22.5zM849.8 597.2h22.5v22.5h-22.5zM849.8 595.8h22.5v22.5h-22.5zM849.8 594.2h22.5v22.5h-22.5zM849.8 592.8h22.5v22.5h-22.5zM849.8 591.2h22.5v22.5h-22.5zM849.8 589.8h22.5v22.5h-22.5zM849.8 588.2h22.5v22.5h-22.5zM849.8 586.8h22.5v22.5h-22.5zM849.8 585.2h22.5v22.5h-22.5zM849.8 583.8h22.5v22.5h-22.5zM850.0 582.4h22.5v22.5h-22.5zM850.2 581.0h22.5v22.5h-22.5zM850.4 579.7h22.5v22.5h-22.5zM850.7 578.3h22.5v22.5h-22.5zM850.9 576.9h22.5v22.5h-22.5zM851.1 575.6h22.5v22.5h-22.5zM851.3 574.2h22.5v22.5h-22.5zM851.6 572.8h22.5v22.5h-22.5zM851.8 571.5h22.5v22.5h-22.5zM852.0 570.1h22.5v22.5h-22.5zM852.2 568.8h22.5v22.5h-22.5zM853.2 567.7h22.5v22.5h-22.5zM854.2 566.7h22.5v22.5h-22.5zM855.1 565.6h22.5v22.5h-22.5zM856.1 564.6h22.5v22.5h-22.5zM857.0 563.5h22.5v22.5h-22.5zM858.0 562.5h22.5v22.5h-22.5zM858.9 561.4h22.5v22.5h-22.5zM859.9 560.4h22.5v22.5h-22.5zM860.8 559.3h22.5v22.5h-22.5zM861.8 558.3h22.5v22.5h-22.5zM862.8 557.2h22.5v22.5h-22.5zM863.9 556.5h22.5v22.5h-22.5zM865.0 555.6h22.5v22.5h-22.5zM866.0 554.9h22.5v22.5h-22.5zM867.1 554.0h22.5v22.5h-22.5zM868.2 553.2h22.5v22.5h-22.5zM869.4 552.5h22.5v22.5h-22.5zM870.5 551.6h22.5v22.5h-22.5zM871.5 550.9h22.5v22.5h-22.5zM872.6 550.0h22.5v22.5h-22.5zM873.8 549.2h22.5v22.5h-22.5zM875.0 548.6h22.5v22.5h-22.5zM876.3 548.0h22.5v22.5h-22.5zM877.6 547.4h22.5v22.5h-22.5zM878.9 546.8h22.5v22.5h-22.5zM880.1 546.2h22.5v22.5h-22.5zM881.4 545.6h22.5v22.5h-22.5zM882.7 545.0h22.5v22.5h-22.5zM884.0 544.4h22.5v22.5h-22.5zM885.2 543.8h22.5v22.5h-22.5zM886.6 543.5h22.5v22.5h-22.5zM888.0 543.2h22.5v22.5h-22.5zM889.4 543.0h22.5v22.5h-22.5zM890.8 542.8h22.5v22.5h-22.5zM892.1 542.5h22.5v22.5h-22.5zM893.5 542.2h22.5v22.5h-22.5zM894.9 542.0h22.5v22.5h-22.5zM896.2 541.8h22.5v22.5h-22.5zM897.6 541.5h22.5v22.5h-22.5zM899.0 541.2h22.5v22.5h-22.5zM900.4 541.0h22.5v22.5h-22.5zM901.8 540.8h22.5v22.5h-22.5zM902.9 540.2h22.5v22.5h-22.5zM904.1 539.8h22.5v22.5h-22.5zM905.2 539.2h22.5v22.5h-22.5zM906.4 538.8h22.5v22.5h-22.5zM907.6 538.2h22.5v22.5h-22.5zM908.8 537.8h22.5v22.5h-22.5zM908.8 536.3h22.5v22.5h-22.5zM908.8 534.8h22.5v22.5h-22.5zM908.8 533.4h22.5v22.5h-22.5zM908.8 531.9h22.5v22.5h-22.5zM908.8 530.4h22.5v22.5h-22.5zM908.8 529.0h22.5v22.5h-22.5zM908.8 527.5h22.5v22.5h-22.5zM908.8 526.0h22.5v22.5h-22.5zM908.8 524.5h22.5v22.5h-22.5zM908.8 523.1h22.5v22.5h-22.5zM908.8 521.6h22.5v22.5h-22.5zM908.8 520.1h22.5v22.5h-22.5zM908.8 518.7h22.5v22.5h-22.5zM908.8 517.2h22.5v22.5h-22.5zM908.8 515.8h22.5v22.5h-22.5zM908.8 514.3h22.5v22.5h-22.5zM908.8 512.8h22.5v22.5h-22.5zM908.8 511.4h22.5v22.5h-22.5zM908.8 509.9h22.5v22.5h-22.5zM908.8 508.4h22.5v22.5h-22.5zM908.8 507.0h22.5v22.5h-22.5zM908.8 505.5h22.5v22.5h-22.5zM908.8 504.0h22.5v22.5h-22.5zM908.8 502.5h22.5v22.5h-22.5zM908.8 501.1h22.5v22.5h-22.5zM908.8 499.6h22.5v22.5h-22.5zM908.8 498.1h22.5v22.5h-22.5zM908.8 496.7h22.5v22.5h-22.5zM908.8 495.2h22.5v22.5h-22.5zM908.8 493.8h22.5v22.5h-22.5zM909.0 492.4h22.5v22.5h-22.5zM909.2 491.0h22.5v22.5h-22.5zM909.5 489.6h22.5v22.5h-22.5zM909.8 488.2h22.5v22.5h-22.5zM910.0 486.9h22.5v22.5h-22.5zM910.2 485.5h22.5v22.5h-22.5zM910.5 484.1h22.5v22.5h-22.5zM910.8 482.8h22.5v22.5h-22.5zM911.8 481.8h22.5v22.5h-22.5zM912.8 480.8h22.5v22.5h-22.5zM913.8 479.8h22.5v22.5h-22.5zM914.8 478.8h22.5v22.5h-22.5zM915.8 477.8h22.5v22.5h-22.5zM917.0 476.9h22.5v22.5h-22.5zM918.1 476.1h22.5v22.5h-22.5zM919.4 475.4h22.5v22.5h-22.5zM920.5 474.6h22.5v22.5h-22.5zM921.8 473.8h22.5v22.5h-22.5zM923.1 473.1h22.5v22.5h-22.5zM924.4 472.4h22.5v22.5h-22.5zM925.8 471.8h22.5v22.5h-22.5zM927.1 471.1h22.5v22.5h-22.5zM928.4 470.4h22.5v22.5h-22.5zM929.8 469.8h22.5v22.5h-22.5zM931.1 469.2h22.5v22.5h-22.5zM932.4 468.8h22.5v22.5h-22.5zM933.8 468.2h22.5v22.5h-22.5zM935.1 467.8h22.5v22.5h-22.5zM936.4 467.2h22.5v22.5h-22.5zM937.8 466.8h22.5v22.5h-22.5zM939.1 466.2h22.5v22.5h-22.5zM940.4 465.8h22.5v22.5h-22.5zM941.8 465.2h22.5v22.5h-22.5zM943.1 464.8h22.5v22.5h-22.5zM944.4 464.2h22.5v22.5h-22.5zM945.7 463.8h22.5v22.5h-22.5zM947.0 463.2h22.5v22.5h-22.5zM948.3 462.8h22.5v22.5h-22.5zM949.6 462.2h22.5v22.5h-22.5zM950.9 461.8h22.5v22.5h-22.5zM952.2 461.2h22.5v22.5h-22.5zM953.5 460.8h22.5v22.5h-22.5zM954.8 460.2h22.5v22.5h-22.5zM956.1 459.8h22.5v22.5h-22.5zM957.4 459.2h22.5v22.5h-22.5zM958.8 458.8h22.5v22.5h-22.5zM960.1 458.4h22.5v22.5h-22.5zM961.5 458.0h22.5v22.5h-22.5zM962.8 457.7h22.5v22.5h-22.5zM964.2 457.3h22.5v22.5h-22.5zM965.6 456.9h22.5v22.5h-22.5zM966.9 456.6h22.5v22.5h-22.5zM968.3 456.2h22.5v22.5h-22.5zM969.7 455.8h22.5v22.5h-22.5zM971.0 455.5h22.5v22.5h-22.5zM972.4 455.1h22.5v22.5h-22.5zM973.8 454.8h22.5v22.5h-22.5zM975.2 454.5h22.5v22.5h-22.5zM976.6 454.2h22.5v22.5h-22.5zM978.0 453.9h22.5v22.5h-22.5zM979.5 453.6h22.5v22.5h-22.5zM980.9 453.3h22.5v22.5h-22.5zM982.3 453.0h22.5v22.5h-22.5zM983.8 452.8h22.5v22.5h-22.5zM984.9 452.5h22.5v22.5h-22.5zM986.1 452.2h22.5v22.5h-22.5zM987.3 452.0h22.5v22.5h-22.5zM988.5 451.8h22.5v22.5h-22.5zM989.2 1008.8h22.5v22.5h-22.5zM989.6 1010.1h22.5v22.5h-22.5zM990.0 1011.5h22.5v22.5h-22.5zM990.3 1012.8h22.5v22.5h-22.5zM990.7 1014.2h22.5v22.5h-22.5zM991.0 1015.5h22.5v22.5h-22.5zM991.4 1016.9h22.5v22.5h-22.5zM991.8 1018.2h22.5v22.5h-22.5zM992.1 1019.6h22.5v22.5h-22.5zM992.5 1021.0h22.5v22.5h-22.5zM992.8 1022.3h22.5v22.5h-22.5zM993.2 1023.7h22.5v22.5h-22.5zM993.5 1025.0h22.5v22.5h-22.5zM993.9 1026.4h22.5v22.5h-22.5zM994.2 1027.8h22.5v22.5h-22.5zM994.5 1029.2h22.5v22.5h-22.5zM994.7 1030.6h22.5v22.5h-22.5zM994.9 1032.0h22.5v22.5h-22.5zM995.1 1033.4h22.5v22.5h-22.5zM995.3 1034.8h22.5v22.5h-22.5zM995.6 1036.2h22.5v22.5h-22.5zM995.8 1037.6h22.5v22.5h-22.5zM996.0 1039.0h22.5v22.5h-22.5zM996.2 1040.4h22.5v22.5h-22.5zM996.4 1041.8h22.5v22.5h-22.5zM996.7 1043.2h22.5v22.5h-22.5zM996.9 1044.6h22.5v22.5h-22.5zM997.1 1046.0h22.5v22.5h-22.5zM997.3 1047.4h22.5v22.5h-22.5zM997.5 1048.8h22.5v22.5h-22.5zM997.8 1050.2h22.5v22.5h-22.5zM997.9 1051.7h22.5v22.5h-22.5zM998.1 1053.0h22.5v22.5h-22.5zM998.2 1054.5h22.5v22.5h-22.5zM998.4 1055.8h22.5v22.5h-22.5zM998.6 1057.2h22.5v22.5h-22.5zM998.8 1058.7h22.5v22.5h-22.5zM998.9 1060.0h22.5v22.5h-22.5zM999.1 1061.5h22.5v22.5h-22.5zM999.2 1062.8h22.5v22.5h-22.5zM999.4 1064.2h22.5v22.5h-22.5zM999.6 1065.7h22.5v22.5h-22.5zM999.8 1067.0h22.5v22.5h-22.5zM999.9 1068.5h22.5v22.5h-22.5zM1000.1 1069.8h22.5v22.5h-22.5zM1000.2 1071.2h22.5v22.5h-22.5zM1000.6 1072.6h22.5v22.5h-22.5zM1001.0 1074.0h22.5v22.5h-22.5zM1001.4 1075.3h22.5v22.5h-22.5zM1001.7 1076.7h22.5v22.5h-22.5zM1002.1 1078.1h22.5v22.5h-22.5zM1002.5 1079.5h22.5v22.5h-22.5zM1002.8 1080.8h22.5v22.5h-22.5zM1003.2 1082.2h22.5v22.5h-22.5zM1003.5 1083.5h22.5v22.5h-22.5zM1003.9 1084.9h22.5v22.5h-22.5zM1004.3 1086.3h22.5v22.5h-22.5zM1004.6 1087.7h22.5v22.5h-22.5zM1005.0 1089.0h22.5v22.5h-22.5zM1005.4 1090.4h22.5v22.5h-22.5zM1005.8 1091.8h22.5v22.5h-22.5zM1006.2 1093.2h22.5v22.5h-22.5zM1006.7 1094.6h22.5v22.5h-22.5zM1007.1 1096.0h22.5v22.5h-22.5zM1007.6 1097.4h22.5v22.5h-22.5zM1008.0 1098.8h22.5v22.5h-22.5zM1008.5 1100.2h22.5v22.5h-22.5zM1009.0 1101.7h22.5v22.5h-22.5zM1009.4 1103.1h22.5v22.5h-22.5zM1009.9 1104.5h22.5v22.5h-22.5zM1010.3 1105.9h22.5v22.5h-22.5zM1010.8 1107.3h22.5v22.5h-22.5zM1011.2 1108.8h22.5v22.5h-22.5zM1011.9 1109.9h22.5v22.5h-22.5zM1012.6 1111.1h22.5v22.5h-22.5zM1013.3 1112.3h22.5v22.5h-22.5zM1014.0 1113.5h22.5v22.5h-22.5zM1014.7 1114.7h22.5v22.5h-22.5zM1015.3 1115.8h22.5v22.5h-22.5zM1016.0 1117.0h22.5v22.5h-22.5zM1016.7 1118.2h22.5v22.5h-22.5zM1017.4 1119.4h22.5v22.5h-22.5zM1018.1 1120.6h22.5v22.5h-22.5zM1018.8 1121.8h22.5v22.5h-22.5zM1019.6 1123.0h22.5v22.5h-22.5zM1020.5 1124.2h22.5v22.5h-22.5zM1021.3 1125.4h22.5v22.5h-22.5zM1022.2 1126.6h22.5v22.5h-22.5zM1023.0 1127.8h22.5v22.5h-22.5zM1023.9 1129.0h22.5v22.5h-22.5zM1024.8 1130.2h22.5v22.5h-22.5zM1025.6 1131.5h22.5v22.5h-22.5zM1026.5 1132.7h22.5v22.5h-22.5zM1027.3 1133.9h22.5v22.5h-22.5zM1028.2 1135.1h22.5v22.5h-22.5zM1029.0 1136.3h22.5v22.5h-22.5zM1029.9 1137.5h22.5v22.5h-22.5zM1030.8 1138.8h22.5v22.5h-22.5zM1031.7 1139.8h22.5v22.5h-22.5zM1032.5 1140.8h22.5v22.5h-22.5zM1033.5 1141.9h22.5v22.5h-22.5zM1034.3 1143.0h22.5v22.5h-22.5zM1035.2 1144.0h22.5v22.5h-22.5zM1036.2 1145.0h22.5v22.5h-22.5zM1037.0 1146.1h22.5v22.5h-22.5zM1038.0 1147.2h22.5v22.5h-22.5zM1038.8 1148.2h22.5v22.5h-22.5zM1039.8 1149.2h22.5v22.5h-22.5zM1071.3 470.8h22.5v22.5h-22.5zM1071.3 472.2h22.5v22.5h-22.5zM1071.3 473.7h22.5v22.5h-22.5zM1071.3 475.1h22.5v22.5h-22.5zM1071.3 476.6h22.5v22.5h-22.5zM1071.3 478.1h22.5v22.5h-22.5zM1071.3 479.6h22.5v22.5h-22.5zM1071.3 481.0h22.5v22.5h-22.5zM1071.3 482.5h22.5v22.5h-22.5zM1071.3 483.9h22.5v22.5h-22.5zM1071.3 485.4h22.5v22.5h-22.5zM1071.3 486.9h22.5v22.5h-22.5zM1071.3 488.4h22.5v22.5h-22.5zM1071.3 489.8h22.5v22.5h-22.5zM1071.3 491.3h22.5v22.5h-22.5zM1071.3 492.8h22.5v22.5h-22.5zM1071.4 491.3h22.5v22.5h-22.5zM1071.4 489.8h22.5v22.5h-22.5zM1071.4 488.4h22.5v22.5h-22.5zM1071.5 486.9h22.5v22.5h-22.5zM1071.5 485.4h22.5v22.5h-22.5zM1071.5 483.9h22.5v22.5h-22.5zM1071.5 482.5h22.5v22.5h-22.5zM1071.6 481.0h22.5v22.5h-22.5zM1071.6 479.6h22.5v22.5h-22.5zM1071.6 478.1h22.5v22.5h-22.5zM1071.6 476.6h22.5v22.5h-22.5zM1071.7 475.1h22.5v22.5h-22.5zM1071.7 473.7h22.5v22.5h-22.5zM1071.7 472.2h22.5v22.5h-22.5zM1071.8 470.8h22.5v22.5h-22.5zM1071.9 469.3h22.5v22.5h-22.5zM1072.0 467.9h22.5v22.5h-22.5zM1072.2 466.5h22.5v22.5h-22.5zM1072.3 465.1h22.5v22.5h-22.5zM1072.5 463.7h22.5v22.5h-22.5zM1072.6 462.3h22.5v22.5h-22.5zM1072.8 460.9h22.5v22.5h-22.5zM1072.9 459.5h22.5v22.5h-22.5zM1073.1 458.0h22.5v22.5h-22.5zM1073.2 456.6h22.5v22.5h-22.5zM1073.4 455.2h22.5v22.5h-22.5zM1073.5 453.8h22.5v22.5h-22.5zM1073.7 452.4h22.5v22.5h-22.5zM1073.8 451.0h22.5v22.5h-22.5zM1074.0 449.6h22.5v22.5h-22.5zM1074.1 448.2h22.5v22.5h-22.5zM1074.2 446.8h22.5v22.5h-22.5zM1074.4 445.3h22.5v22.5h-22.5zM1074.6 443.9h22.5v22.5h-22.5zM1074.7 442.4h22.5v22.5h-22.5zM1074.9 441.0h22.5v22.5h-22.5zM1075.0 439.6h22.5v22.5h-22.5zM1075.2 438.1h22.5v22.5h-22.5zM1075.3 436.7h22.5v22.5h-22.5zM1075.5 435.2h22.5v22.5h-22.5zM1075.7 433.8h22.5v22.5h-22.5zM1075.8 432.4h22.5v22.5h-22.5zM1076.0 430.9h22.5v22.5h-22.5zM1076.1 429.5h22.5v22.5h-22.5zM1076.3 428.1h22.5v22.5h-22.5zM1076.4 426.6h22.5v22.5h-22.5zM1076.6 425.2h22.5v22.5h-22.5zM1076.8 423.8h22.5v22.5h-22.5zM1077.0 422.3h22.5v22.5h-22.5zM1077.3 420.9h22.5v22.5h-22.5zM1077.6 419.5h22.5v22.5h-22.5zM1077.9 418.0h22.5v22.5h-22.5zM1078.2 416.6h22.5v22.5h-22.5zM1078.5 415.2h22.5v22.5h-22.5zM1078.8 413.8h22.5v22.5h-22.5zM1079.0 412.3h22.5v22.5h-22.5zM1079.3 410.9h22.5v22.5h-22.5zM1079.6 409.5h22.5v22.5h-22.5zM1079.9 408.0h22.5v22.5h-22.5zM1080.2 406.6h22.5v22.5h-22.5zM1080.5 405.2h22.5v22.5h-22.5zM1080.8 403.8h22.5v22.5h-22.5zM1081.2 402.3h22.5v22.5h-22.5zM1081.6 400.9h22.5v22.5h-22.5zM1082.0 399.5h22.5v22.5h-22.5zM1082.4 398.1h22.5v22.5h-22.5zM1082.8 396.7h22.5v22.5h-22.5zM1083.2 395.2h22.5v22.5h-22.5zM1083.7 393.8h22.5v22.5h-22.5zM1084.1 392.4h22.5v22.5h-22.5zM1084.5 391.0h22.5v22.5h-22.5zM1084.9 389.6h22.5v22.5h-22.5zM1085.3 388.2h22.5v22.5h-22.5zM1085.8 386.8h22.5v22.5h-22.5zM1086.1 385.4h22.5v22.5h-22.5zM1086.5 384.0h22.5v22.5h-22.5zM1086.9 382.6h22.5v22.5h-22.5zM1087.3 381.2h22.5v22.5h-22.5zM1087.7 379.8h22.5v22.5h-22.5zM1088.1 378.4h22.5v22.5h-22.5zM1088.4 377.1h22.5v22.5h-22.5zM1088.8 375.7h22.5v22.5h-22.5zM1089.2 374.3h22.5v22.5h-22.5zM1089.6 372.9h22.5v22.5h-22.5zM1090.0 371.5h22.5v22.5h-22.5zM1090.4 370.1h22.5v22.5h-22.5zM1090.8 368.8h22.5v22.5h-22.5zM1091.5 367.5h22.5v22.5h-22.5zM1092.2 366.2h22.5v22.5h-22.5zM1093.0 365.0h22.5v22.5h-22.5zM1093.8 363.8h22.5v22.5h-22.5zM1094.5 362.5h22.5v22.5h-22.5zM1095.2 361.2h22.5v22.5h-22.5zM1096.0 360.0h22.5v22.5h-22.5zM1096.8 358.8h22.5v22.5h-22.5zM1097.5 357.5h22.5v22.5h-22.5zM1098.2 356.2h22.5v22.5h-22.5zM1099.0 355.0h22.5v22.5h-22.5zM1099.8 353.8h22.5v22.5h-22.5zM1100.6 352.6h22.5v22.5h-22.5zM1101.5 351.4h22.5v22.5h-22.5zM1102.4 350.1h22.5v22.5h-22.5zM1103.3 348.9h22.5v22.5h-22.5zM1104.2 347.8h22.5v22.5h-22.5zM1105.0 346.6h22.5v22.5h-22.5zM1105.9 345.4h22.5v22.5h-22.5zM1106.8 344.1h22.5v22.5h-22.5zM1107.7 342.9h22.5v22.5h-22.5zM1108.5 341.8h22.5v22.5h-22.5zM1108.5 343.2h22.5v22.5h-22.5zM1108.5 344.8h22.5v22.5h-22.5zM1108.5 346.2h22.5v22.5h-22.5zM1108.5 347.8h22.5v22.5h-22.5zM1108.5 349.2h22.5v22.5h-22.5zM1108.5 350.8h22.5v22.5h-22.5zM1108.5 352.2h22.5v22.5h-22.5zM1108.5 353.8h22.5v22.5h-22.5zM1114.5 1008.8h22.5v22.5h-22.5zM1114.6 1010.2h22.5v22.5h-22.5zM1114.8 1011.6h22.5v22.5h-22.5zM1114.8 1013.0h22.5v22.5h-22.5zM1115.0 1014.4h22.5v22.5h-22.5zM1115.0 1015.9h22.5v22.5h-22.5zM1115.2 1017.3h22.5v22.5h-22.5zM1115.2 1018.7h22.5v22.5h-22.5zM1115.3 1020.1h22.5v22.5h-22.5zM1115.5 1021.5h22.5v22.5h-22.5zM1115.5 1023.0h22.5v22.5h-22.5zM1115.7 1024.4h22.5v22.5h-22.5zM1115.8 1025.8h22.5v22.5h-22.5zM1115.8 1027.2h22.5v22.5h-22.5zM1116.0 1028.6h22.5v22.5h-22.5zM1116.0 1030.1h22.5v22.5h-22.5zM1116.2 1031.5h22.5v22.5h-22.5zM1116.2 1032.9h22.5v22.5h-22.5zM1116.4 1034.3h22.5v22.5h-22.5zM1116.5 1035.8h22.5v22.5h-22.5zM1116.6 1037.2h22.5v22.5h-22.5zM1116.8 1038.7h22.5v22.5h-22.5zM1117.0 1040.1h22.5v22.5h-22.5zM1117.2 1041.6h22.5v22.5h-22.5zM1117.3 1043.1h22.5v22.5h-22.5zM1117.5 1044.5h22.5v22.5h-22.5zM1117.7 1046.0h22.5v22.5h-22.5zM1117.9 1047.4h22.5v22.5h-22.5zM1118.0 1048.9h22.5v22.5h-22.5zM1118.2 1050.4h22.5v22.5h-22.5zM1118.4 1051.8h22.5v22.5h-22.5zM1118.6 1053.3h22.5v22.5h-22.5zM1118.8 1054.8h22.5v22.5h-22.5zM1119.0 1056.2h22.5v22.5h-22.5zM1119.2 1057.7h22.5v22.5h-22.5zM1119.5 1059.1h22.5v22.5h-22.5zM1119.7 1060.6h22.5v22.5h-22.5zM1120.0 1062.0h22.5v22.5h-22.5zM1120.2 1063.5h22.5v22.5h-22.5zM1120.5 1064.9h22.5v22.5h-22.5zM1120.7 1066.4h22.5v22.5h-22.5zM1121.0 1067.8h22.5v22.5h-22.5zM1121.2 1069.3h22.5v22.5h-22.5zM1121.5 1070.8h22.5v22.5h-22.5zM1121.7 1072.2h22.5v22.5h-22.5zM1121.9 1073.7h22.5v22.5h-22.5zM1122.2 1075.1h22.5v22.5h-22.5zM1122.4 1076.6h22.5v22.5h-22.5zM1122.7 1078.0h22.5v22.5h-22.5zM1122.9 1079.5h22.5v22.5h-22.5zM1123.2 1080.9h22.5v22.5h-22.5zM1123.4 1082.4h22.5v22.5h-22.5zM1123.7 1083.8h22.5v22.5h-22.5zM1123.9 1085.3h22.5v22.5h-22.5zM1124.2 1086.8h22.5v22.5h-22.5zM1124.5 1088.1h22.5v22.5h-22.5zM1124.9 1089.5h22.5v22.5h-22.5zM1125.3 1090.9h22.5v22.5h-22.5zM1125.6 1092.2h22.5v22.5h-22.5zM1126.0 1093.6h22.5v22.5h-22.5zM1126.4 1095.0h22.5v22.5h-22.5zM1126.7 1096.4h22.5v22.5h-22.5zM1127.1 1097.8h22.5v22.5h-22.5zM1127.5 1099.1h22.5v22.5h-22.5zM1127.8 1100.5h22.5v22.5h-22.5zM1128.2 1101.9h22.5v22.5h-22.5zM1128.6 1103.2h22.5v22.5h-22.5zM1128.9 1104.6h22.5v22.5h-22.5zM1129.3 1106.0h22.5v22.5h-22.5zM1129.7 1107.4h22.5v22.5h-22.5zM1130.0 1108.8h22.5v22.5h-22.5zM1130.6 1110.1h22.5v22.5h-22.5zM1131.1 1111.5h22.5v22.5h-22.5zM1131.6 1112.8h22.5v22.5h-22.5zM1132.1 1114.2h22.5v22.5h-22.5zM1132.6 1115.5h22.5v22.5h-22.5zM1133.1 1116.9h22.5v22.5h-22.5zM1133.7 1118.2h22.5v22.5h-22.5zM1134.2 1119.6h22.5v22.5h-22.5zM1134.7 1121.0h22.5v22.5h-22.5zM1135.2 1122.3h22.5v22.5h-22.5zM1135.7 1123.7h22.5v22.5h-22.5zM1136.2 1125.0h22.5v22.5h-22.5zM1136.7 1126.4h22.5v22.5h-22.5zM1137.2 1127.8h22.5v22.5h-22.5zM1138.1 1128.9h22.5v22.5h-22.5zM1139.0 1130.0h22.5v22.5h-22.5zM1139.9 1131.1h22.5v22.5h-22.5zM1140.8 1132.2h22.5v22.5h-22.5zM1141.6 1133.3h22.5v22.5h-22.5zM1142.5 1134.5h22.5v22.5h-22.5zM1143.4 1135.6h22.5v22.5h-22.5zM1144.3 1136.7h22.5v22.5h-22.5zM1145.1 1137.8h22.5v22.5h-22.5zM1146.0 1138.9h22.5v22.5h-22.5zM1146.9 1140.0h22.5v22.5h-22.5zM1147.8 1141.2h22.5v22.5h-22.5zM1148.6 1142.3h22.5v22.5h-22.5zM1149.5 1143.4h22.5v22.5h-22.5zM1150.4 1144.5h22.5v22.5h-22.5zM1151.3 1145.6h22.5v22.5h-22.5zM1152.2 1146.8h22.5v22.5h-22.5zM1153.1 1147.7h22.5v22.5h-22.5zM1154.1 1148.6h22.5v22.5h-22.5zM1155.0 1149.5h22.5v22.5h-22.5zM1156.0 1150.5h22.5v22.5h-22.5zM1156.9 1151.4h22.5v22.5h-22.5zM1157.9 1152.4h22.5v22.5h-22.5zM1158.8 1153.3h22.5v22.5h-22.5zM1159.8 1154.2h22.5v22.5h-22.5zM1160.8 1155.2h22.5v22.5h-22.5zM1252.8 271.8h22.5v22.5h-22.5zM1253.8 270.9h22.5v22.5h-22.5zM1254.8 270.1h22.5v22.5h-22.5zM1255.8 269.2h22.5v22.5h-22.5zM1256.8 268.4h22.5v22.5h-22.5zM1257.8 267.6h22.5v22.5h-22.5zM1258.8 266.8h22.5v22.5h-22.5zM1260.0 266.0h22.5v22.5h-22.5zM1261.2 265.2h22.5v22.5h-22.5zM1262.5 264.5h22.5v22.5h-22.5zM1263.8 263.8h22.5v22.5h-22.5zM1263.8 265.2h22.5v22.5h-22.5zM1263.8 266.8h22.5v22.5h-22.5zM1263.8 268.2h22.5v22.5h-22.5zM1263.8 269.8h22.5v22.5h-22.5zM1263.8 271.2h22.5v22.5h-22.5zM1263.8 272.8h22.5v22.5h-22.5zM1263.8 274.2h22.5v22.5h-22.5zM1263.8 275.8h22.5v22.5h-22.5zM1263.8 277.2h22.5v22.5h-22.5zM1263.8 278.8h22.5v22.5h-22.5zM1263.8 280.2h22.5v22.5h-22.5zM1263.8 281.8h22.5v22.5h-22.5zM1263.8 283.2h22.5v22.5h-22.5zM1263.8 284.8h22.5v22.5h-22.5zM1263.8 286.2h22.5v22.5h-22.5zM1263.8 287.8h22.5v22.5h-22.5zM1263.8 289.2h22.5v22.5h-22.5zM1263.8 290.8h22.5v22.5h-22.5zM1263.8 292.2h22.5v22.5h-22.5zM1263.8 293.8h22.5v22.5h-22.5zM1263.8 295.2h22.5v22.5h-22.5zM1263.8 296.8h22.5v22.5h-22.5zM1263.8 298.2h22.5v22.5h-22.5zM1263.8 299.8h22.5v22.5h-22.5zM1263.8 301.2h22.5v22.5h-22.5zM1263.8 302.8h22.5v22.5h-22.5zM1263.8 304.2h22.5v22.5h-22.5zM1263.8 305.8h22.5v22.5h-22.5zM1263.8 307.2h22.5v22.5h-22.5zM1263.8 308.8h22.5v22.5h-22.5zM1263.8 310.2h22.5v22.5h-22.5zM1263.8 311.8h22.5v22.5h-22.5zM1263.8 313.2h22.5v22.5h-22.5zM1263.8 314.8h22.5v22.5h-22.5zM1263.8 316.2h22.5v22.5h-22.5zM1263.8 317.8h22.5v22.5h-22.5zM1263.8 319.2h22.5v22.5h-22.5zM1263.8 320.8h22.5v22.5h-22.5zM1263.8 322.2h22.5v22.5h-22.5zM1263.8 323.8h22.5v22.5h-22.5zM1263.8 325.2h22.5v22.5h-22.5zM1263.8 326.8h22.5v22.5h-22.5zM1264.8 360.8h22.5v22.5h-22.5zM1264.8 362.2h22.5v22.5h-22.5zM1264.8 363.6h22.5v22.5h-22.5zM1264.8 365.1h22.5v22.5h-22.5zM1264.8 366.5h22.5v22.5h-22.5zM1264.8 367.9h22.5v22.5h-22.5zM1264.8 369.4h22.5v22.5h-22.5zM1264.8 370.8h22.5v22.5h-22.5zM1264.8 372.2h22.5v22.5h-22.5zM1264.8 373.7h22.5v22.5h-22.5zM1264.8 375.1h22.5v22.5h-22.5zM1264.8 376.6h22.5v22.5h-22.5zM1264.8 378.0h22.5v22.5h-22.5zM1264.8 379.4h22.5v22.5h-22.5zM1264.8 380.9h22.5v22.5h-22.5zM1264.8 382.3h22.5v22.5h-22.5zM1264.8 383.8h22.5v22.5h-22.5zM1266.0 384.4h22.5v22.5h-22.5zM1267.2 385.0h22.5v22.5h-22.5zM1268.5 385.6h22.5v22.5h-22.5zM1269.8 386.2h22.5v22.5h-22.5zM1271.0 386.9h22.5v22.5h-22.5zM1272.2 387.5h22.5v22.5h-22.5zM1273.5 388.1h22.5v22.5h-22.5zM1274.8 388.8h22.5v22.5h-22.5zM1276.2 388.9h22.5v22.5h-22.5zM1277.5 388.9h22.5v22.5h-22.5zM1279.0 389.1h22.5v22.5h-22.5zM1280.3 389.1h22.5v22.5h-22.5zM1281.8 389.2h22.5v22.5h-22.5zM1283.2 389.4h22.5v22.5h-22.5zM1284.5 389.4h22.5v22.5h-22.5zM1286.0 389.6h22.5v22.5h-22.5zM1287.3 389.6h22.5v22.5h-22.5zM1288.8 389.8h22.5v22.5h-22.5zM1290.2 389.6h22.5v22.5h-22.5zM1291.6 389.5h22.5v22.5h-22.5zM1293.0 389.4h22.5v22.5h-22.5zM1294.4 389.3h22.5v22.5h-22.5zM1295.9 389.2h22.5v22.5h-22.5zM1297.3 389.1h22.5v22.5h-22.5zM1298.7 389.0h22.5v22.5h-22.5zM1300.1 388.9h22.5v22.5h-22.5zM1301.5 388.8h22.5v22.5h-22.5zM1303.0 388.7h22.5v22.5h-22.5zM1304.4 388.6h22.5v22.5h-22.5zM1305.8 388.5h22.5v22.5h-22.5zM1307.2 388.4h22.5v22.5h-22.5zM1308.6 388.3h22.5v22.5h-22.5zM1310.1 388.2h22.5v22.5h-22.5zM1311.5 388.1h22.5v22.5h-22.5zM1312.9 388.0h22.5v22.5h-22.5zM1314.3 387.9h22.5v22.5h-22.5zM1315.8 387.8h22.5v22.5h-22.5zM1378.8 374.1h22.5v22.5h-22.5zM1380.2 373.8h22.5v22.5h-22.5zM1381.5 373.5h22.5v22.5h-22.5zM1383.0 373.3h22.5v22.5h-22.5zM1384.3 373.0h22.5v22.5h-22.5zM1385.8 372.8h22.5v22.5h-22.5zM1387.2 372.5h22.5v22.5h-22.5zM1388.5 372.3h22.5v22.5h-22.5zM1390.0 372.0h22.5v22.5h-22.5zM1391.3 371.8h22.5v22.5h-22.5zM1392.8 371.5h22.5v22.5h-22.5zM1394.2 371.3h22.5v22.5h-22.5zM1395.5 371.0h22.5v22.5h-22.5zM1397.0 370.8h22.5v22.5h-22.5zM1398.3 370.5h22.5v22.5h-22.5zM1399.8 370.2h22.5v22.5h-22.5zM1402.8 960.2h22.5v22.5h-22.5zM1402.9 961.7h22.5v22.5h-22.5zM1403.0 963.2h22.5v22.5h-22.5zM1403.2 964.7h22.5v22.5h-22.5zM1403.3 966.1h22.5v22.5h-22.5zM1403.4 967.6h22.5v22.5h-22.5zM1403.6 969.1h22.5v22.5h-22.5zM1403.7 970.5h22.5v22.5h-22.5zM1403.8 972.0h22.5v22.5h-22.5zM1404.0 973.5h22.5v22.5h-22.5zM1404.1 974.9h22.5v22.5h-22.5zM1404.3 976.4h22.5v22.5h-22.5zM1404.4 977.9h22.5v22.5h-22.5zM1404.5 979.3h22.5v22.5h-22.5zM1404.7 980.8h22.5v22.5h-22.5zM1404.8 982.3h22.5v22.5h-22.5zM1405.0 983.8h22.5v22.5h-22.5zM1405.2 985.2h22.5v22.5h-22.5zM1405.4 986.6h22.5v22.5h-22.5zM1405.6 988.0h22.5v22.5h-22.5zM1405.8 989.5h22.5v22.5h-22.5zM1406.0 990.9h22.5v22.5h-22.5zM1406.2 992.3h22.5v22.5h-22.5zM1406.4 993.7h22.5v22.5h-22.5zM1406.7 995.2h22.5v22.5h-22.5zM1406.9 996.6h22.5v22.5h-22.5zM1407.1 998.0h22.5v22.5h-22.5zM1407.3 999.4h22.5v22.5h-22.5zM1407.5 1000.9h22.5v22.5h-22.5zM1407.7 1002.3h22.5v22.5h-22.5zM1407.9 1003.7h22.5v22.5h-22.5zM1408.2 1005.1h22.5v22.5h-22.5zM1408.4 1006.6h22.5v22.5h-22.5zM1408.6 1008.0h22.5v22.5h-22.5zM1408.8 1009.4h22.5v22.5h-22.5zM1409.0 1010.8h22.5v22.5h-22.5zM1409.2 1012.2h22.5v22.5h-22.5zM1409.4 1013.7h22.5v22.5h-22.5zM1409.6 1015.1h22.5v22.5h-22.5zM1409.9 1016.5h22.5v22.5h-22.5zM1410.1 1017.9h22.5v22.5h-22.5zM1410.3 1019.3h22.5v22.5h-22.5zM1410.5 1020.8h22.5v22.5h-22.5zM1410.7 1022.2h22.5v22.5h-22.5zM1410.9 1023.6h22.5v22.5h-22.5zM1411.1 1025.0h22.5v22.5h-22.5zM1411.3 1026.5h22.5v22.5h-22.5zM1411.5 1027.9h22.5v22.5h-22.5zM1411.6 1029.3h22.5v22.5h-22.5zM1411.8 1030.7h22.5v22.5h-22.5zM1411.9 1032.1h22.5v22.5h-22.5zM1412.1 1033.5h22.5v22.5h-22.5zM1412.2 1035.0h22.5v22.5h-22.5zM1412.4 1036.4h22.5v22.5h-22.5zM1412.5 1037.8h22.5v22.5h-22.5zM1412.7 1039.2h22.5v22.5h-22.5zM1412.8 1040.7h22.5v22.5h-22.5zM1413.0 1042.1h22.5v22.5h-22.5zM1413.1 1043.5h22.5v22.5h-22.5zM1413.3 1044.9h22.5v22.5h-22.5zM1413.4 1046.3h22.5v22.5h-22.5zM1413.5 1047.8h22.5v22.5h-22.5zM1414.0 1049.1h22.5v22.5h-22.5zM1414.5 1050.5h22.5v22.5h-22.5zM1415.0 1051.9h22.5v22.5h-22.5zM1415.5 1053.3h22.5v22.5h-22.5zM1416.0 1054.7h22.5v22.5h-22.5zM1416.5 1056.1h22.5v22.5h-22.5zM1417.0 1057.5h22.5v22.5h-22.5zM1417.5 1058.9h22.5v22.5h-22.5zM1418.0 1060.2h22.5v22.5h-22.5zM1418.5 1061.6h22.5v22.5h-22.5zM1419.0 1063.0h22.5v22.5h-22.5zM1419.5 1064.4h22.5v22.5h-22.5zM1420.0 1065.8h22.5v22.5h-22.5zM1420.5 1067.2h22.5v22.5h-22.5zM1421.0 1068.6h22.5v22.5h-22.5zM1421.5 1070.0h22.5v22.5h-22.5zM1422.0 1071.3h22.5v22.5h-22.5zM1422.5 1072.7h22.5v22.5h-22.5zM1423.0 1074.0h22.5v22.5h-22.5zM1423.4 1075.3h22.5v22.5h-22.5zM1423.8 1076.7h22.5v22.5h-22.5zM1424.3 1078.0h22.5v22.5h-22.5zM1424.8 1079.3h22.5v22.5h-22.5zM1425.2 1080.7h22.5v22.5h-22.5zM1425.7 1082.0h22.5v22.5h-22.5zM1426.1 1083.3h22.5v22.5h-22.5zM1426.5 1084.7h22.5v22.5h-22.5zM1427.0 1086.0h22.5v22.5h-22.5zM1427.5 1087.3h22.5v22.5h-22.5zM1433.8 505.8h22.5v22.5h-22.5zM1433.8 504.3h22.5v22.5h-22.5zM1433.8 502.8h22.5v22.5h-22.5zM1433.8 501.3h22.5v22.5h-22.5zM1433.9 499.9h22.5v22.5h-22.5zM1433.9 498.4h22.5v22.5h-22.5zM1433.9 496.9h22.5v22.5h-22.5zM1434.0 495.5h22.5v22.5h-22.5zM1434.0 494.0h22.5v22.5h-22.5zM1434.0 492.5h22.5v22.5h-22.5zM1434.1 491.1h22.5v22.5h-22.5zM1434.1 489.6h22.5v22.5h-22.5zM1434.1 488.1h22.5v22.5h-22.5zM1434.2 486.7h22.5v22.5h-22.5zM1434.2 485.2h22.5v22.5h-22.5zM1434.2 483.7h22.5v22.5h-22.5zM1434.2 482.2h22.5v22.5h-22.5zM1434.3 480.8h22.5v22.5h-22.5zM1434.3 479.3h22.5v22.5h-22.5zM1434.3 477.8h22.5v22.5h-22.5zM1434.4 476.4h22.5v22.5h-22.5zM1434.4 474.9h22.5v22.5h-22.5zM1434.4 473.4h22.5v22.5h-22.5zM1434.5 472.0h22.5v22.5h-22.5zM1434.5 470.5h22.5v22.5h-22.5zM1434.5 469.0h22.5v22.5h-22.5zM1434.6 467.6h22.5v22.5h-22.5zM1434.6 466.1h22.5v22.5h-22.5zM1434.6 464.6h22.5v22.5h-22.5zM1434.7 463.2h22.5v22.5h-22.5zM1434.7 461.7h22.5v22.5h-22.5zM1434.7 460.2h22.5v22.5h-22.5zM1434.8 458.8h22.5v22.5h-22.5zM1435.1 457.4h22.5v22.5h-22.5zM1435.4 456.0h22.5v22.5h-22.5zM1435.8 454.6h22.5v22.5h-22.5zM1436.1 453.2h22.5v22.5h-22.5zM1436.4 451.8h22.5v22.5h-22.5zM1436.8 450.4h22.5v22.5h-22.5zM1437.1 449.0h22.5v22.5h-22.5zM1437.4 447.6h22.5v22.5h-22.5zM1437.8 446.2h22.5v22.5h-22.5zM1438.1 444.9h22.5v22.5h-22.5zM1438.4 443.5h22.5v22.5h-22.5zM1438.8 442.1h22.5v22.5h-22.5zM1439.1 440.7h22.5v22.5h-22.5zM1439.4 439.3h22.5v22.5h-22.5zM1439.8 437.9h22.5v22.5h-22.5zM1440.1 436.5h22.5v22.5h-22.5zM1440.4 435.1h22.5v22.5h-22.5zM1440.8 433.8h22.5v22.5h-22.5zM1441.3 432.4h22.5v22.5h-22.5zM1441.8 431.0h22.5v22.5h-22.5zM1442.4 429.7h22.5v22.5h-22.5zM1442.9 428.3h22.5v22.5h-22.5zM1443.5 426.9h22.5v22.5h-22.5zM1444.0 425.6h22.5v22.5h-22.5zM1444.6 424.2h22.5v22.5h-22.5zM1445.1 422.8h22.5v22.5h-22.5zM1445.7 421.5h22.5v22.5h-22.5zM1446.2 420.1h22.5v22.5h-22.5zM1446.8 418.8h22.5v22.5h-22.5zM1447.6 417.6h22.5v22.5h-22.5zM1448.5 416.5h22.5v22.5h-22.5zM1449.4 415.4h22.5v22.5h-22.5zM1450.3 414.3h22.5v22.5h-22.5zM1451.2 413.2h22.5v22.5h-22.5zM1452.1 412.1h22.5v22.5h-22.5zM1453.0 411.0h22.5v22.5h-22.5zM1453.9 409.9h22.5v22.5h-22.5zM1454.8 408.8h22.5v22.5h-22.5zM1455.8 407.8h22.5v22.5h-22.5zM1456.8 406.8h22.5v22.5h-22.5zM1457.8 405.8h22.5v22.5h-22.5zM1458.8 404.8h22.5v22.5h-22.5zM1459.8 403.8h22.5v22.5h-22.5zM1460.8 402.8h22.5v22.5h-22.5zM1461.8 401.8h22.5v22.5h-22.5zM1462.8 400.8h22.5v22.5h-22.5zM1463.8 399.8h22.5v22.5h-22.5zM1464.8 398.8h22.5v22.5h-22.5zM1465.8 397.8h22.5v22.5h-22.5zM1467.0 397.3h22.5v22.5h-22.5zM1468.3 396.9h22.5v22.5h-22.5zM1469.6 396.4h22.5v22.5h-22.5zM1470.9 396.0h22.5v22.5h-22.5zM1472.1 395.5h22.5v22.5h-22.5zM1473.4 395.1h22.5v22.5h-22.5zM1474.7 394.6h22.5v22.5h-22.5zM1476.0 394.2h22.5v22.5h-22.5zM1477.2 393.8h22.5v22.5h-22.5zM1477.2 392.3h22.5v22.5h-22.5zM1477.2 390.8h22.5v22.5h-22.5zM1477.2 389.3h22.5v22.5h-22.5zM1477.2 387.9h22.5v22.5h-22.5zM1477.2 386.4h22.5v22.5h-22.5zM1477.2 384.9h22.5v22.5h-22.5zM1477.2 383.4h22.5v22.5h-22.5zM1477.2 382.0h22.5v22.5h-22.5zM1477.2 380.5h22.5v22.5h-22.5zM1477.2 379.0h22.5v22.5h-22.5zM1477.2 377.6h22.5v22.5h-22.5zM1477.2 376.1h22.5v22.5h-22.5zM1477.2 374.6h22.5v22.5h-22.5zM1477.2 373.1h22.5v22.5h-22.5zM1477.2 371.7h22.5v22.5h-22.5zM1477.2 370.2h22.5v22.5h-22.5zM1477.2 368.7h22.5v22.5h-22.5zM1477.2 367.2h22.5v22.5h-22.5zM1477.2 365.8h22.5v22.5h-22.5zM1477.2 364.3h22.5v22.5h-22.5zM1477.2 362.8h22.5v22.5h-22.5zM1477.2 361.4h22.5v22.5h-22.5zM1477.2 359.9h22.5v22.5h-22.5zM1477.2 358.4h22.5v22.5h-22.5zM1477.2 356.9h22.5v22.5h-22.5zM1477.2 355.5h22.5v22.5h-22.5zM1477.2 354.0h22.5v22.5h-22.5zM1477.2 352.5h22.5v22.5h-22.5zM1477.2 351.1h22.5v22.5h-22.5zM1477.2 349.6h22.5v22.5h-22.5zM1477.2 348.1h22.5v22.5h-22.5zM1477.2 346.6h22.5v22.5h-22.5zM1477.2 345.2h22.5v22.5h-22.5zM1477.2 343.7h22.5v22.5h-22.5zM1477.2 342.2h22.5v22.5h-22.5zM1477.2 340.8h22.5v22.5h-22.5zM1476.8 315.8h22.5v22.5h-22.5zM1477.0 314.4h22.5v22.5h-22.5zM1477.2 313.1h22.5v22.5h-22.5zM1477.4 311.8h22.5v22.5h-22.5zM1477.6 310.4h22.5v22.5h-22.5zM1477.9 309.1h22.5v22.5h-22.5zM1478.1 307.8h22.5v22.5h-22.5zM1478.3 306.4h22.5v22.5h-22.5zM1478.5 305.1h22.5v22.5h-22.5zM1478.8 303.8h22.5v22.5h-22.5zM1479.2 302.4h22.5v22.5h-22.5zM1479.8 301.1h22.5v22.5h-22.5zM1480.2 299.8h22.5v22.5h-22.5zM1480.8 298.4h22.5v22.5h-22.5zM1481.2 297.1h22.5v22.5h-22.5zM1481.8 295.8h22.5v22.5h-22.5zM1482.2 294.4h22.5v22.5h-22.5zM1482.8 293.1h22.5v22.5h-22.5zM1483.2 291.8h22.5v22.5h-22.5zM1483.9 290.4h22.5v22.5h-22.5zM1484.6 289.1h22.5v22.5h-22.5zM1485.2 287.8h22.5v22.5h-22.5zM1485.9 286.4h22.5v22.5h-22.5zM1486.6 285.1h22.5v22.5h-22.5zM1487.2 283.8h22.5v22.5h-22.5zM1488.1 282.6h22.5v22.5h-22.5zM1489.0 281.5h22.5v22.5h-22.5zM1489.9 280.4h22.5v22.5h-22.5zM1490.8 279.2h22.5v22.5h-22.5zM1491.6 278.1h22.5v22.5h-22.5zM1492.5 277.0h22.5v22.5h-22.5zM1493.4 275.9h22.5v22.5h-22.5zM1494.2 274.8h22.5v22.5h-22.5zM1495.2 273.7h22.5v22.5h-22.5zM1496.1 272.6h22.5v22.5h-22.5zM1497.1 271.6h22.5v22.5h-22.5zM1498.0 270.5h22.5v22.5h-22.5zM1498.9 269.4h22.5v22.5h-22.5zM1499.9 268.4h22.5v22.5h-22.5zM1500.8 267.3h22.5v22.5h-22.5zM1501.8 266.2h22.5v22.5h-22.5zM1503.0 265.8h22.5v22.5h-22.5zM1504.2 265.4h22.5v22.5h-22.5zM1505.4 265.0h22.5v22.5h-22.5zM1506.6 264.6h22.5v22.5h-22.5zM1507.8 264.2h22.5v22.5h-22.5zM1509.0 263.8h22.5v22.5h-22.5zM1511.8 940.2h22.5v22.5h-22.5zM1511.9 941.7h22.5v22.5h-22.5zM1512.0 943.1h22.5v22.5h-22.5zM1512.1 944.6h22.5v22.5h-22.5zM1512.2 946.0h22.5v22.5h-22.5zM1512.3 947.5h22.5v22.5h-22.5zM1512.5 948.9h22.5v22.5h-22.5zM1512.6 950.3h22.5v22.5h-22.5zM1512.7 951.8h22.5v22.5h-22.5zM1512.8 953.2h22.5v22.5h-22.5zM1512.9 954.7h22.5v22.5h-22.5zM1513.0 956.1h22.5v22.5h-22.5zM1513.2 957.5h22.5v22.5h-22.5zM1513.3 959.0h22.5v22.5h-22.5zM1513.4 960.4h22.5v22.5h-22.5zM1513.5 961.9h22.5v22.5h-22.5zM1513.6 963.3h22.5v22.5h-22.5zM1513.8 964.8h22.5v22.5h-22.5zM1513.9 966.2h22.5v22.5h-22.5zM1514.0 967.7h22.5v22.5h-22.5zM1514.1 969.2h22.5v22.5h-22.5zM1514.2 970.7h22.5v22.5h-22.5zM1514.3 972.2h22.5v22.5h-22.5zM1514.4 973.7h22.5v22.5h-22.5zM1514.5 975.2h22.5v22.5h-22.5zM1514.6 976.7h22.5v22.5h-22.5zM1514.8 978.1h22.5v22.5h-22.5zM1514.9 979.6h22.5v22.5h-22.5zM1515.0 981.1h22.5v22.5h-22.5zM1515.1 982.6h22.5v22.5h-22.5zM1515.2 984.1h22.5v22.5h-22.5zM1515.3 985.6h22.5v22.5h-22.5zM1515.4 987.1h22.5v22.5h-22.5zM1515.5 988.6h22.5v22.5h-22.5zM1515.6 990.1h22.5v22.5h-22.5zM1515.8 991.5h22.5v22.5h-22.5zM1515.9 993.0h22.5v22.5h-22.5zM1516.1 994.4h22.5v22.5h-22.5zM1516.3 995.8h22.5v22.5h-22.5zM1516.5 997.2h22.5v22.5h-22.5zM1516.7 998.6h22.5v22.5h-22.5zM1516.9 1000.1h22.5v22.5h-22.5zM1517.1 1001.5h22.5v22.5h-22.5zM1517.2 1002.9h22.5v22.5h-22.5zM1517.4 1004.3h22.5v22.5h-22.5zM1517.6 1005.7h22.5v22.5h-22.5zM1517.8 1007.2h22.5v22.5h-22.5zM1518.0 1008.6h22.5v22.5h-22.5zM1518.2 1010.0h22.5v22.5h-22.5zM1518.4 1011.4h22.5v22.5h-22.5zM1518.6 1012.8h22.5v22.5h-22.5zM1518.8 1014.2h22.5v22.5h-22.5zM1519.1 1015.7h22.5v22.5h-22.5zM1519.4 1017.1h22.5v22.5h-22.5zM1519.7 1018.5h22.5v22.5h-22.5zM1520.0 1020.0h22.5v22.5h-22.5zM1520.3 1021.4h22.5v22.5h-22.5zM1520.6 1022.8h22.5v22.5h-22.5zM1520.9 1024.2h22.5v22.5h-22.5zM1521.2 1025.7h22.5v22.5h-22.5zM1521.6 1027.1h22.5v22.5h-22.5zM1521.9 1028.5h22.5v22.5h-22.5zM1522.2 1029.9h22.5v22.5h-22.5zM1522.5 1031.3h22.5v22.5h-22.5zM1522.8 1032.8h22.5v22.5h-22.5zM1523.1 1034.2h22.5v22.5h-22.5zM1523.4 1035.6h22.5v22.5h-22.5zM1523.8 1037.0h22.5v22.5h-22.5zM1524.1 1038.5h22.5v22.5h-22.5zM1524.5 1039.9h22.5v22.5h-22.5zM1524.8 1041.3h22.5v22.5h-22.5zM1525.2 1042.8h22.5v22.5h-22.5zM1525.5 1044.2h22.5v22.5h-22.5zM1525.9 1045.6h22.5v22.5h-22.5zM1526.2 1047.1h22.5v22.5h-22.5zM1526.6 1048.5h22.5v22.5h-22.5zM1526.9 1049.9h22.5v22.5h-22.5zM1527.3 1051.3h22.5v22.5h-22.5zM1527.6 1052.8h22.5v22.5h-22.5zM1528.0 1054.2h22.5v22.5h-22.5zM1528.3 1055.6h22.5v22.5h-22.5zM1528.7 1057.1h22.5v22.5h-22.5zM1529.0 1058.5h22.5v22.5h-22.5zM1529.4 1059.9h22.5v22.5h-22.5zM1529.8 1061.3h22.5v22.5h-22.5zM1530.5 1062.6h22.5v22.5h-22.5zM1531.3 1063.9h22.5v22.5h-22.5zM1532.0 1065.2h22.5v22.5h-22.5zM1532.8 1066.5h22.5v22.5h-22.5zM1533.6 1067.8h22.5v22.5h-22.5zM1534.3 1069.0h22.5v22.5h-22.5zM1535.1 1070.3h22.5v22.5h-22.5zM1535.9 1071.6h22.5v22.5h-22.5zM1536.6 1072.9h22.5v22.5h-22.5zM1537.4 1074.2h22.5v22.5h-22.5zM1538.2 1075.5h22.5v22.5h-22.5zM1538.9 1076.7h22.5v22.5h-22.5zM1539.7 1078.0h22.5v22.5h-22.5zM1540.5 1079.3h22.5v22.5h-22.5zM1541.2 1080.6h22.5v22.5h-22.5zM1542.0 1081.9h22.5v22.5h-22.5zM1542.8 1083.2h22.5v22.5h-22.5zM315.8 1178.0h22.5v22.5h-22.5zM527.9 791.1h22.5v22.5h-22.5zM556.8 749.5h22.5v22.5h-22.5zM556.8 781.1h22.5v22.5h-22.5zM556.8 853.8h22.5v22.5h-22.5zM560.1 1002.8h22.5v22.5h-22.5zM560.1 1041.8h22.5v22.5h-22.5zM635.8 842.0h22.5v22.5h-22.5zM635.8 888.8h22.5v22.5h-22.5zM635.8 925.8h22.5v22.5h-22.5zM635.8 1068.8h22.5v22.5h-22.5zM635.8 1134.8h22.5v22.5h-22.5zM635.8 1166.2h22.5v22.5h-22.5zM635.8 1195.2h22.5v22.5h-22.5zM635.8 1221.8h22.5v22.5h-22.5zM746.8 646.2h22.5v22.5h-22.5zM746.8 685.5h22.5v22.5h-22.5zM746.8 747.6h22.5v22.5h-22.5zM746.8 843.0h22.5v22.5h-22.5zM746.8 988.5h22.5v22.5h-22.5zM749.8 1046.3h22.5v22.5h-22.5zM781.2 798.8h22.5v22.5h-22.5zM781.2 840.2h22.5v22.5h-22.5zM781.2 1002.5h22.5v22.5h-22.5zM780.8 1078.8h22.5v22.5h-22.5zM780.8 1115.5h22.5v22.5h-22.5zM780.8 1146.8h22.5v22.5h-22.5zM780.8 1175.0h22.5v22.5h-22.5zM988.2 486.8h22.5v22.5h-22.5zM988.2 529.1h22.5v22.5h-22.5zM988.2 571.5h22.5v22.5h-22.5zM988.0 639.1h22.5v22.5h-22.5zM988.0 747.0h22.5v22.5h-22.5zM988.0 913.4h22.5v22.5h-22.5zM988.2 976.8h22.5v22.5h-22.5zM1068.5 610.6h22.5v22.5h-22.5zM1068.5 531.5h22.5v22.5h-22.5zM1068.5 733.4h22.5v22.5h-22.5zM1066.2 912.2h22.5v22.5h-22.5zM1066.0 1025.8h22.5v22.5h-22.5zM1066.0 1077.8h22.5v22.5h-22.5zM1066.0 1126.0h22.5v22.5h-22.5zM1066.0 1168.2h22.5v22.5h-22.5zM1108.5 380.8h22.5v22.5h-22.5zM1108.5 430.8h22.5v22.5h-22.5zM1108.5 482.6h22.5v22.5h-22.5zM1108.5 566.1h22.5v22.5h-22.5zM1109.0 696.5h22.5v22.5h-22.5zM1112.0 896.0h22.5v22.5h-22.5zM1112.0 972.5h22.5v22.5h-22.5zM1208.8 334.8h22.5v22.5h-22.5zM1214.8 318.8h22.5v22.5h-22.5zM1223.8 305.2h22.5v22.5h-22.5zM1229.8 297.8h22.5v22.5h-22.5zM1235.8 290.2h22.5v22.5h-22.5zM1241.2 284.8h22.5v22.5h-22.5zM1246.8 278.8h22.5v22.5h-22.5zM1201.0 361.4h22.5v22.5h-22.5zM1196.5 387.8h22.5v22.5h-22.5zM1191.8 413.2h22.5v22.5h-22.5zM1189.8 438.8h22.5v22.5h-22.5zM1189.8 464.8h22.5v22.5h-22.5zM1187.8 503.8h22.5v22.5h-22.5zM1186.8 586.0h22.5v22.5h-22.5zM1186.8 715.2h22.5v22.5h-22.5zM1185.2 901.8h22.5v22.5h-22.5zM1185.2 1020.2h22.5v22.5h-22.5zM1185.2 1074.8h22.5v22.5h-22.5zM1185.2 1126.5h22.5v22.5h-22.5zM1185.2 1169.5h22.5v22.5h-22.5zM1342.0 381.9h22.5v22.5h-22.5zM1399.3 407.6h22.5v22.5h-22.5zM1399.3 451.1h22.5v22.5h-22.5zM1399.3 495.6h22.5v22.5h-22.5zM1399.2 569.0h22.5v22.5h-22.5zM1399.2 684.4h22.5v22.5h-22.5zM1399.2 856.4h22.5v22.5h-22.5zM1402.0 925.4h22.5v22.5h-22.5zM1431.3 534.4h22.5v22.5h-22.5zM1431.3 600.0h22.5v22.5h-22.5zM1431.3 708.5h22.5v22.5h-22.5zM1431.3 863.8h22.5v22.5h-22.5zM1431.3 961.1h22.5v22.5h-22.5zM1431.3 1005.5h22.5v22.5h-22.5zM1431.3 1048.8h22.5v22.5h-22.5zM1431.3 1086.5h22.5v22.5h-22.5zM1509.0 307.6h22.5v22.5h-22.5zM1508.2 356.2h22.5v22.5h-22.5zM1508.8 407.6h22.5v22.5h-22.5zM1508.8 491.4h22.5v22.5h-22.5zM1508.3 623.5h22.5v22.5h-22.5zM1510.2 824.4h22.5v22.5h-22.5zM1511.3 902.0h22.5v22.5h-22.5zM1560.0 1106.2h22.5v22.5h-22.5zM1586.0 1125.0h22.5v22.5h-22.5zM1623.5 1143.7h22.5v22.5h-22.5zM1658.0 1155.5h22.5v22.5h-22.5z" fill="#fb3b3b"/>
</g>
<text x="184.2" y="1460" text-anchor="middle" font-size="61" textLength="31.72" lengthAdjust="spacingAndGlyphs">0</text>
<text x="480.7" y="1460" text-anchor="middle" font-size="61" textLength="95.16" lengthAdjust="spacingAndGlyphs">200</text>
<text x="777.1" y="1460" text-anchor="middle" font-size="61" textLength="95.16" lengthAdjust="spacingAndGlyphs">400</text>
<text x="1073.6" y="1460" text-anchor="middle" font-size="61" textLength="95.16" lengthAdjust="spacingAndGlyphs">600</text>
<text x="1370.1" y="1460" text-anchor="middle" font-size="61" textLength="95.16" lengthAdjust="spacingAndGlyphs">800</text>
<text x="1666.6" y="1460" text-anchor="middle" font-size="61" textLength="126.88" lengthAdjust="spacingAndGlyphs">1000</text>
<text x="160.5" y="1409.0" text-anchor="end" font-size="60.5" textLength="61.33" lengthAdjust="spacingAndGlyphs">25</text>
<text x="160.5" y="1160.1" text-anchor="end" font-size="60.5" textLength="61.33" lengthAdjust="spacingAndGlyphs">30</text>
<text x="160.5" y="911.2" text-anchor="end" font-size="60.5" textLength="61.33" lengthAdjust="spacingAndGlyphs">35</text>
<text x="160.5" y="662.3" text-anchor="end" font-size="60.5" textLength="61.33" lengthAdjust="spacingAndGlyphs">40</text>
<text x="160.5" y="413.4" text-anchor="end" font-size="60.5" textLength="61.33" lengthAdjust="spacingAndGlyphs">45</text>
<text x="160.5" y="164.5" text-anchor="end" font-size="60.5" textLength="61.33" lengthAdjust="spacingAndGlyphs">50</text>
<text x="999" y="1561" text-anchor="middle" font-size="66" textLength="172.88" lengthAdjust="spacingAndGlyphs">time/s</text>
<text transform="translate(68.2 708.8) rotate(-90)" text-anchor="middle" font-size="65.7" textLength="579.78" lengthAdjust="spacingAndGlyphs">wellhead pressure /m</text>
<path d="M326.5 149.2H480" stroke="#505050" stroke-width="10.5"/><circle cx="480" cy="149.2" r="5.25" fill="#505050"/>
<rect x="393.15" y="218.25" width="22.5" height="22.5" fill="#fb3b3b"/>
<text x="494" y="169" font-size="60.5" textLength="464.98" lengthAdjust="spacingAndGlyphs">field measurement</text>
<text x="493.5" y="249" font-size="60.5" textLength="488.77" lengthAdjust="spacingAndGlyphs">numerical modeling</text>
</svg>
</body></html>
